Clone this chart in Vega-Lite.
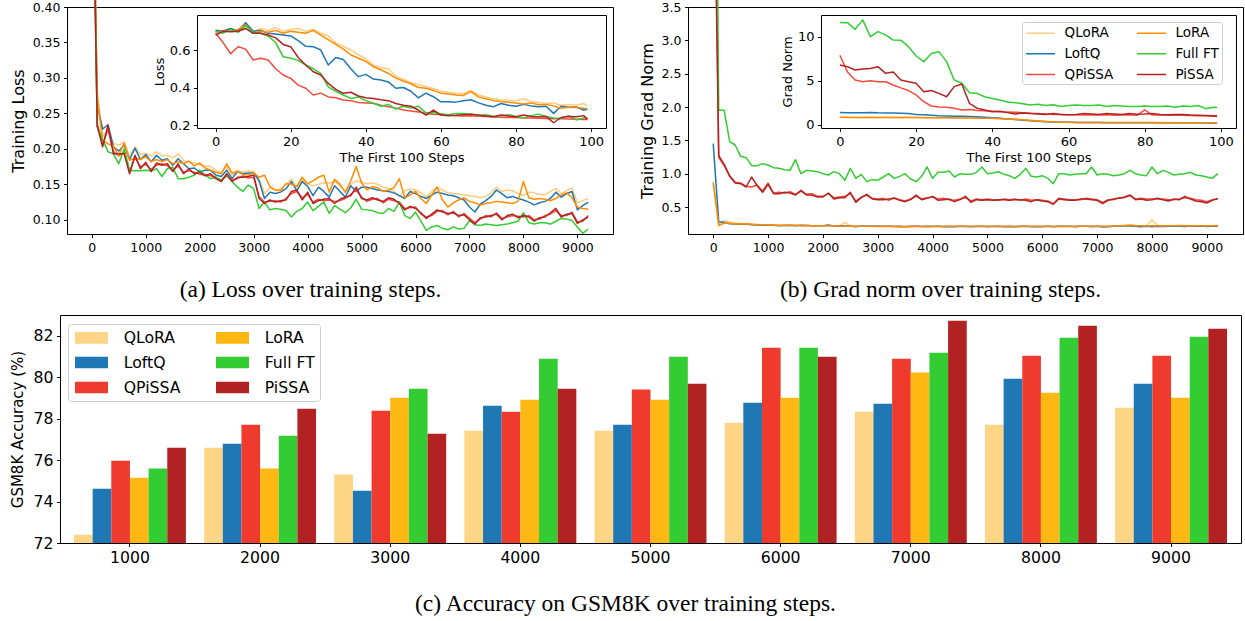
{
  "$schema": "https://vega.github.io/schema/vega-lite/v6.json",
  "width": 1245,
  "height": 621,
  "autosize": {"type": "none"},
  "padding": 0,
  "background": "white",
  "config": {
    "view": {"stroke": null},
    "font": "DejaVu Sans",
    "axis": {
      "grid": false,
      "domainColor": "#000000",
      "domainWidth": 1,
      "tickColor": "#000000",
      "tickWidth": 1,
      "tickSize": 3.5,
      "labelPadding": 3.5,
      "labelColor": "#000000",
      "labelFont": "DejaVu Sans",
      "labelFlush": false,
      "labelOverlap": false,
      "titleColor": "#000000",
      "titleFont": "DejaVu Sans",
      "titleFontWeight": "normal"
    },
    "legend": {"labelFont": "DejaVu Sans", "labelColor": "#000000"}
  },
  "datasets": {
    "lossMain": [
      {"m":"QLoRA","s":0,"v":0.70},{"m":"QLoRA","s":100,"v":0.282},{"m":"QLoRA","s":200,"v":0.217},{"m":"QLoRA","s":300,"v":0.226},{"m":"QLoRA","s":400,"v":0.208},{"m":"QLoRA","s":500,"v":0.205},{"m":"QLoRA","s":600,"v":0.210},{"m":"QLoRA","s":700,"v":0.189},{"m":"QLoRA","s":800,"v":0.203},{"m":"QLoRA","s":900,"v":0.192},
      {"m":"QLoRA","s":1000,"v":0.194},{"m":"QLoRA","s":1100,"v":0.190},{"m":"QLoRA","s":1200,"v":0.196},{"m":"QLoRA","s":1300,"v":0.190},{"m":"QLoRA","s":1400,"v":0.191},{"m":"QLoRA","s":1500,"v":0.187},{"m":"QLoRA","s":1600,"v":0.193},{"m":"QLoRA","s":1700,"v":0.184},{"m":"QLoRA","s":1800,"v":0.181},{"m":"QLoRA","s":1900,"v":0.180},
      {"m":"QLoRA","s":2000,"v":0.178},{"m":"QLoRA","s":2100,"v":0.176},{"m":"QLoRA","s":2200,"v":0.175},{"m":"QLoRA","s":2300,"v":0.170},{"m":"QLoRA","s":2400,"v":0.166},{"m":"QLoRA","s":2500,"v":0.175},{"m":"QLoRA","s":2600,"v":0.163},{"m":"QLoRA","s":2700,"v":0.170},{"m":"QLoRA","s":2800,"v":0.167},{"m":"QLoRA","s":2900,"v":0.169},
      {"m":"QLoRA","s":3000,"v":0.168},{"m":"QLoRA","s":3100,"v":0.158},{"m":"QLoRA","s":3200,"v":0.137},{"m":"QLoRA","s":3300,"v":0.145},{"m":"QLoRA","s":3400,"v":0.142},{"m":"QLoRA","s":3500,"v":0.144},{"m":"QLoRA","s":3600,"v":0.150},{"m":"QLoRA","s":3700,"v":0.157},{"m":"QLoRA","s":3800,"v":0.146},{"m":"QLoRA","s":3900,"v":0.156},
      {"m":"QLoRA","s":4000,"v":0.150},{"m":"QLoRA","s":4100,"v":0.148},{"m":"QLoRA","s":4200,"v":0.150},{"m":"QLoRA","s":4300,"v":0.152},{"m":"QLoRA","s":4400,"v":0.152},{"m":"QLoRA","s":4500,"v":0.154},{"m":"QLoRA","s":4600,"v":0.148},{"m":"QLoRA","s":4700,"v":0.139},{"m":"QLoRA","s":4800,"v":0.150},{"m":"QLoRA","s":4900,"v":0.155},
      {"m":"QLoRA","s":5000,"v":0.153},{"m":"QLoRA","s":5100,"v":0.151},{"m":"QLoRA","s":5200,"v":0.152},{"m":"QLoRA","s":5300,"v":0.150},{"m":"QLoRA","s":5400,"v":0.146},{"m":"QLoRA","s":5500,"v":0.144},{"m":"QLoRA","s":5600,"v":0.140},{"m":"QLoRA","s":5700,"v":0.133},{"m":"QLoRA","s":5800,"v":0.141},{"m":"QLoRA","s":5900,"v":0.143},
      {"m":"QLoRA","s":6000,"v":0.142},{"m":"QLoRA","s":6100,"v":0.138},{"m":"QLoRA","s":6200,"v":0.132},{"m":"QLoRA","s":6300,"v":0.140},{"m":"QLoRA","s":6400,"v":0.146},{"m":"QLoRA","s":6500,"v":0.142},{"m":"QLoRA","s":6600,"v":0.138},{"m":"QLoRA","s":6700,"v":0.137},{"m":"QLoRA","s":6800,"v":0.136},{"m":"QLoRA","s":6900,"v":0.135},
      {"m":"QLoRA","s":7000,"v":0.134},{"m":"QLoRA","s":7100,"v":0.133},{"m":"QLoRA","s":7200,"v":0.131},{"m":"QLoRA","s":7300,"v":0.133},{"m":"QLoRA","s":7400,"v":0.138},{"m":"QLoRA","s":7500,"v":0.146},{"m":"QLoRA","s":7600,"v":0.140},{"m":"QLoRA","s":7700,"v":0.142},{"m":"QLoRA","s":7800,"v":0.141},{"m":"QLoRA","s":7900,"v":0.137},
      {"m":"QLoRA","s":8000,"v":0.134},{"m":"QLoRA","s":8100,"v":0.139},{"m":"QLoRA","s":8200,"v":0.138},{"m":"QLoRA","s":8300,"v":0.136},{"m":"QLoRA","s":8400,"v":0.135},{"m":"QLoRA","s":8500,"v":0.140},{"m":"QLoRA","s":8600,"v":0.144},{"m":"QLoRA","s":8700,"v":0.137},{"m":"QLoRA","s":8800,"v":0.141},{"m":"QLoRA","s":8900,"v":0.145},
      {"m":"QLoRA","s":9000,"v":0.124},{"m":"QLoRA","s":9100,"v":0.127},{"m":"QLoRA","s":9200,"v":0.130},

      {"m":"LoftQ","s":0,"v":0.70},{"m":"LoftQ","s":100,"v":0.262},{"m":"LoftQ","s":200,"v":0.228},{"m":"LoftQ","s":300,"v":0.234},{"m":"LoftQ","s":400,"v":0.203},{"m":"LoftQ","s":500,"v":0.197},{"m":"LoftQ","s":600,"v":0.205},{"m":"LoftQ","s":700,"v":0.185},{"m":"LoftQ","s":800,"v":0.201},{"m":"LoftQ","s":900,"v":0.185},
      {"m":"LoftQ","s":1000,"v":0.192},{"m":"LoftQ","s":1100,"v":0.182},{"m":"LoftQ","s":1200,"v":0.191},{"m":"LoftQ","s":1300,"v":0.184},{"m":"LoftQ","s":1400,"v":0.186},{"m":"LoftQ","s":1500,"v":0.177},{"m":"LoftQ","s":1600,"v":0.186},{"m":"LoftQ","s":1700,"v":0.179},{"m":"LoftQ","s":1800,"v":0.172},{"m":"LoftQ","s":1900,"v":0.173},
      {"m":"LoftQ","s":2000,"v":0.167},{"m":"LoftQ","s":2100,"v":0.170},{"m":"LoftQ","s":2200,"v":0.170},{"m":"LoftQ","s":2300,"v":0.163},{"m":"LoftQ","s":2400,"v":0.161},{"m":"LoftQ","s":2500,"v":0.170},{"m":"LoftQ","s":2600,"v":0.158},{"m":"LoftQ","s":2700,"v":0.168},{"m":"LoftQ","s":2800,"v":0.165},{"m":"LoftQ","s":2900,"v":0.166},
      {"m":"LoftQ","s":3000,"v":0.166},{"m":"LoftQ","s":3100,"v":0.155},{"m":"LoftQ","s":3200,"v":0.130},{"m":"LoftQ","s":3300,"v":0.139},{"m":"LoftQ","s":3400,"v":0.137},{"m":"LoftQ","s":3500,"v":0.139},{"m":"LoftQ","s":3600,"v":0.144},{"m":"LoftQ","s":3700,"v":0.154},{"m":"LoftQ","s":3800,"v":0.141},{"m":"LoftQ","s":3900,"v":0.154},
      {"m":"LoftQ","s":4000,"v":0.147},{"m":"LoftQ","s":4100,"v":0.134},{"m":"LoftQ","s":4200,"v":0.146},{"m":"LoftQ","s":4300,"v":0.140},{"m":"LoftQ","s":4400,"v":0.132},{"m":"LoftQ","s":4500,"v":0.148},{"m":"LoftQ","s":4600,"v":0.140},{"m":"LoftQ","s":4700,"v":0.132},{"m":"LoftQ","s":4800,"v":0.148},{"m":"LoftQ","s":4900,"v":0.140},
      {"m":"LoftQ","s":5000,"v":0.146},{"m":"LoftQ","s":5100,"v":0.146},{"m":"LoftQ","s":5200,"v":0.144},{"m":"LoftQ","s":5300,"v":0.142},{"m":"LoftQ","s":5400,"v":0.141},{"m":"LoftQ","s":5500,"v":0.140},{"m":"LoftQ","s":5600,"v":0.138},{"m":"LoftQ","s":5700,"v":0.134},{"m":"LoftQ","s":5800,"v":0.130},{"m":"LoftQ","s":5900,"v":0.140},
      {"m":"LoftQ","s":6000,"v":0.137},{"m":"LoftQ","s":6100,"v":0.133},{"m":"LoftQ","s":6200,"v":0.130},{"m":"LoftQ","s":6300,"v":0.135},{"m":"LoftQ","s":6400,"v":0.139},{"m":"LoftQ","s":6500,"v":0.137},{"m":"LoftQ","s":6600,"v":0.135},{"m":"LoftQ","s":6700,"v":0.134},{"m":"LoftQ","s":6800,"v":0.131},{"m":"LoftQ","s":6900,"v":0.128},
      {"m":"LoftQ","s":7000,"v":0.118},{"m":"LoftQ","s":7100,"v":0.111},{"m":"LoftQ","s":7200,"v":0.122},{"m":"LoftQ","s":7300,"v":0.127},{"m":"LoftQ","s":7400,"v":0.133},{"m":"LoftQ","s":7500,"v":0.142},{"m":"LoftQ","s":7600,"v":0.137},{"m":"LoftQ","s":7700,"v":0.131},{"m":"LoftQ","s":7800,"v":0.133},{"m":"LoftQ","s":7900,"v":0.130},
      {"m":"LoftQ","s":8000,"v":0.128},{"m":"LoftQ","s":8100,"v":0.125},{"m":"LoftQ","s":8200,"v":0.121},{"m":"LoftQ","s":8300,"v":0.124},{"m":"LoftQ","s":8400,"v":0.126},{"m":"LoftQ","s":8500,"v":0.130},{"m":"LoftQ","s":8600,"v":0.139},{"m":"LoftQ","s":8700,"v":0.132},{"m":"LoftQ","s":8800,"v":0.137},{"m":"LoftQ","s":8900,"v":0.140},
      {"m":"LoftQ","s":9000,"v":0.114},{"m":"LoftQ","s":9100,"v":0.120},{"m":"LoftQ","s":9200,"v":0.125},

      {"m":"QPiSSA","s":0,"v":0.70},{"m":"QPiSSA","s":100,"v":0.236},{"m":"QPiSSA","s":200,"v":0.206},{"m":"QPiSSA","s":300,"v":0.228},{"m":"QPiSSA","s":400,"v":0.196},{"m":"QPiSSA","s":500,"v":0.190},{"m":"QPiSSA","s":600,"v":0.196},{"m":"QPiSSA","s":700,"v":0.168},{"m":"QPiSSA","s":800,"v":0.188},{"m":"QPiSSA","s":900,"v":0.175},
      {"m":"QPiSSA","s":1000,"v":0.178},{"m":"QPiSSA","s":1100,"v":0.171},{"m":"QPiSSA","s":1200,"v":0.177},{"m":"QPiSSA","s":1300,"v":0.179},{"m":"QPiSSA","s":1400,"v":0.176},{"m":"QPiSSA","s":1500,"v":0.170},{"m":"QPiSSA","s":1600,"v":0.176},{"m":"QPiSSA","s":1700,"v":0.167},{"m":"QPiSSA","s":1800,"v":0.169},{"m":"QPiSSA","s":1900,"v":0.167},
      {"m":"QPiSSA","s":2000,"v":0.164},{"m":"QPiSSA","s":2100,"v":0.164},{"m":"QPiSSA","s":2200,"v":0.162},{"m":"QPiSSA","s":2300,"v":0.160},{"m":"QPiSSA","s":2400,"v":0.156},{"m":"QPiSSA","s":2500,"v":0.162},{"m":"QPiSSA","s":2600,"v":0.156},{"m":"QPiSSA","s":2700,"v":0.158},{"m":"QPiSSA","s":2800,"v":0.162},{"m":"QPiSSA","s":2900,"v":0.159},
      {"m":"QPiSSA","s":3000,"v":0.160},{"m":"QPiSSA","s":3100,"v":0.133},{"m":"QPiSSA","s":3200,"v":0.125},{"m":"QPiSSA","s":3300,"v":0.126},{"m":"QPiSSA","s":3400,"v":0.127},{"m":"QPiSSA","s":3500,"v":0.125},{"m":"QPiSSA","s":3600,"v":0.130},{"m":"QPiSSA","s":3700,"v":0.137},{"m":"QPiSSA","s":3800,"v":0.140},{"m":"QPiSSA","s":3900,"v":0.131},
      {"m":"QPiSSA","s":4000,"v":0.136},{"m":"QPiSSA","s":4100,"v":0.125},{"m":"QPiSSA","s":4200,"v":0.129},{"m":"QPiSSA","s":4300,"v":0.127},{"m":"QPiSSA","s":4400,"v":0.128},{"m":"QPiSSA","s":4500,"v":0.126},{"m":"QPiSSA","s":4600,"v":0.127},{"m":"QPiSSA","s":4700,"v":0.130},{"m":"QPiSSA","s":4800,"v":0.136},{"m":"QPiSSA","s":4900,"v":0.142},
      {"m":"QPiSSA","s":5000,"v":0.132},{"m":"QPiSSA","s":5100,"v":0.126},{"m":"QPiSSA","s":5200,"v":0.129},{"m":"QPiSSA","s":5300,"v":0.130},{"m":"QPiSSA","s":5400,"v":0.124},{"m":"QPiSSA","s":5500,"v":0.129},{"m":"QPiSSA","s":5600,"v":0.127},{"m":"QPiSSA","s":5700,"v":0.125},{"m":"QPiSSA","s":5800,"v":0.116},{"m":"QPiSSA","s":5900,"v":0.117},
      {"m":"QPiSSA","s":6000,"v":0.118},{"m":"QPiSSA","s":6100,"v":0.108},{"m":"QPiSSA","s":6200,"v":0.104},{"m":"QPiSSA","s":6300,"v":0.106},{"m":"QPiSSA","s":6400,"v":0.112},{"m":"QPiSSA","s":6500,"v":0.113},{"m":"QPiSSA","s":6600,"v":0.107},{"m":"QPiSSA","s":6700,"v":0.112},{"m":"QPiSSA","s":6800,"v":0.104},{"m":"QPiSSA","s":6900,"v":0.109},
      {"m":"QPiSSA","s":7000,"v":0.102},{"m":"QPiSSA","s":7100,"v":0.096},{"m":"QPiSSA","s":7200,"v":0.101},{"m":"QPiSSA","s":7300,"v":0.106},{"m":"QPiSSA","s":7400,"v":0.104},{"m":"QPiSSA","s":7500,"v":0.110},{"m":"QPiSSA","s":7600,"v":0.102},{"m":"QPiSSA","s":7700,"v":0.104},{"m":"QPiSSA","s":7800,"v":0.106},{"m":"QPiSSA","s":7900,"v":0.105},
      {"m":"QPiSSA","s":8000,"v":0.104},{"m":"QPiSSA","s":8100,"v":0.106},{"m":"QPiSSA","s":8200,"v":0.100},{"m":"QPiSSA","s":8300,"v":0.101},{"m":"QPiSSA","s":8400,"v":0.106},{"m":"QPiSSA","s":8500,"v":0.108},{"m":"QPiSSA","s":8600,"v":0.113},{"m":"QPiSSA","s":8700,"v":0.106},{"m":"QPiSSA","s":8800,"v":0.106},{"m":"QPiSSA","s":8900,"v":0.111},
      {"m":"QPiSSA","s":9000,"v":0.097},{"m":"QPiSSA","s":9100,"v":0.098},{"m":"QPiSSA","s":9200,"v":0.106},

      {"m":"LoRA","s":0,"v":0.70},{"m":"LoRA","s":100,"v":0.272},{"m":"LoRA","s":200,"v":0.212},{"m":"LoRA","s":300,"v":0.207},{"m":"LoRA","s":400,"v":0.204},{"m":"LoRA","s":500,"v":0.191},{"m":"LoRA","s":600,"v":0.208},{"m":"LoRA","s":700,"v":0.184},{"m":"LoRA","s":800,"v":0.187},{"m":"LoRA","s":900,"v":0.185},
      {"m":"LoRA","s":1000,"v":0.189},{"m":"LoRA","s":1100,"v":0.182},{"m":"LoRA","s":1200,"v":0.185},{"m":"LoRA","s":1300,"v":0.182},{"m":"LoRA","s":1400,"v":0.185},{"m":"LoRA","s":1500,"v":0.179},{"m":"LoRA","s":1600,"v":0.182},{"m":"LoRA","s":1700,"v":0.179},{"m":"LoRA","s":1800,"v":0.183},{"m":"LoRA","s":1900,"v":0.176},
      {"m":"LoRA","s":2000,"v":0.180},{"m":"LoRA","s":2100,"v":0.173},{"m":"LoRA","s":2200,"v":0.170},{"m":"LoRA","s":2300,"v":0.167},{"m":"LoRA","s":2400,"v":0.165},{"m":"LoRA","s":2500,"v":0.179},{"m":"LoRA","s":2600,"v":0.166},{"m":"LoRA","s":2700,"v":0.168},{"m":"LoRA","s":2800,"v":0.164},{"m":"LoRA","s":2900,"v":0.163},
      {"m":"LoRA","s":3000,"v":0.166},{"m":"LoRA","s":3100,"v":0.160},{"m":"LoRA","s":3200,"v":0.163},{"m":"LoRA","s":3300,"v":0.147},{"m":"LoRA","s":3400,"v":0.142},{"m":"LoRA","s":3500,"v":0.141},{"m":"LoRA","s":3600,"v":0.151},{"m":"LoRA","s":3700,"v":0.150},{"m":"LoRA","s":3800,"v":0.147},{"m":"LoRA","s":3900,"v":0.160},
      {"m":"LoRA","s":4000,"v":0.151},{"m":"LoRA","s":4100,"v":0.155},{"m":"LoRA","s":4200,"v":0.160},{"m":"LoRA","s":4300,"v":0.163},{"m":"LoRA","s":4400,"v":0.139},{"m":"LoRA","s":4500,"v":0.157},{"m":"LoRA","s":4600,"v":0.150},{"m":"LoRA","s":4700,"v":0.139},{"m":"LoRA","s":4800,"v":0.155},{"m":"LoRA","s":4900,"v":0.175},
      {"m":"LoRA","s":5000,"v":0.152},{"m":"LoRA","s":5100,"v":0.142},{"m":"LoRA","s":5200,"v":0.147},{"m":"LoRA","s":5300,"v":0.145},{"m":"LoRA","s":5400,"v":0.140},{"m":"LoRA","s":5500,"v":0.142},{"m":"LoRA","s":5600,"v":0.145},{"m":"LoRA","s":5700,"v":0.158},{"m":"LoRA","s":5800,"v":0.131},{"m":"LoRA","s":5900,"v":0.135},
      {"m":"LoRA","s":6000,"v":0.140},{"m":"LoRA","s":6100,"v":0.130},{"m":"LoRA","s":6200,"v":0.123},{"m":"LoRA","s":6300,"v":0.135},{"m":"LoRA","s":6400,"v":0.146},{"m":"LoRA","s":6500,"v":0.128},{"m":"LoRA","s":6600,"v":0.118},{"m":"LoRA","s":6700,"v":0.124},{"m":"LoRA","s":6800,"v":0.128},{"m":"LoRA","s":6900,"v":0.131},
      {"m":"LoRA","s":7000,"v":0.126},{"m":"LoRA","s":7100,"v":0.124},{"m":"LoRA","s":7200,"v":0.121},{"m":"LoRA","s":7300,"v":0.123},{"m":"LoRA","s":7400,"v":0.124},{"m":"LoRA","s":7500,"v":0.126},{"m":"LoRA","s":7600,"v":0.125},{"m":"LoRA","s":7700,"v":0.124},{"m":"LoRA","s":7800,"v":0.123},{"m":"LoRA","s":7900,"v":0.126},
      {"m":"LoRA","s":8000,"v":0.154},{"m":"LoRA","s":8100,"v":0.131},{"m":"LoRA","s":8200,"v":0.129},{"m":"LoRA","s":8300,"v":0.130},{"m":"LoRA","s":8400,"v":0.129},{"m":"LoRA","s":8500,"v":0.127},{"m":"LoRA","s":8600,"v":0.130},{"m":"LoRA","s":8700,"v":0.135},{"m":"LoRA","s":8800,"v":0.138},{"m":"LoRA","s":8900,"v":0.131},
      {"m":"LoRA","s":9000,"v":0.118},{"m":"LoRA","s":9100,"v":0.116},{"m":"LoRA","s":9200,"v":0.115},

      {"m":"Full FT","s":0,"v":0.70},{"m":"Full FT","s":100,"v":0.231},{"m":"Full FT","s":200,"v":0.213},{"m":"Full FT","s":300,"v":0.196},{"m":"Full FT","s":400,"v":0.193},{"m":"Full FT","s":500,"v":0.179},{"m":"Full FT","s":600,"v":0.200},{"m":"Full FT","s":700,"v":0.170},{"m":"Full FT","s":800,"v":0.169},{"m":"Full FT","s":900,"v":0.169},
      {"m":"Full FT","s":1000,"v":0.170},{"m":"Full FT","s":1100,"v":0.169},{"m":"Full FT","s":1200,"v":0.172},{"m":"Full FT","s":1300,"v":0.161},{"m":"Full FT","s":1400,"v":0.172},{"m":"Full FT","s":1500,"v":0.174},{"m":"Full FT","s":1600,"v":0.158},{"m":"Full FT","s":1700,"v":0.158},{"m":"Full FT","s":1800,"v":0.160},{"m":"Full FT","s":1900,"v":0.163},
      {"m":"Full FT","s":2000,"v":0.170},{"m":"Full FT","s":2100,"v":0.163},{"m":"Full FT","s":2200,"v":0.158},{"m":"Full FT","s":2300,"v":0.160},{"m":"Full FT","s":2400,"v":0.156},{"m":"Full FT","s":2500,"v":0.163},{"m":"Full FT","s":2600,"v":0.154},{"m":"Full FT","s":2700,"v":0.146},{"m":"Full FT","s":2800,"v":0.140},{"m":"Full FT","s":2900,"v":0.149},
      {"m":"Full FT","s":3000,"v":0.144},{"m":"Full FT","s":3100,"v":0.116},{"m":"Full FT","s":3200,"v":0.125},{"m":"Full FT","s":3300,"v":0.114},{"m":"Full FT","s":3400,"v":0.116},{"m":"Full FT","s":3500,"v":0.115},{"m":"Full FT","s":3600,"v":0.113},{"m":"Full FT","s":3700,"v":0.104},{"m":"Full FT","s":3800,"v":0.112},{"m":"Full FT","s":3900,"v":0.116},
      {"m":"Full FT","s":4000,"v":0.125},{"m":"Full FT","s":4100,"v":0.113},{"m":"Full FT","s":4200,"v":0.119},{"m":"Full FT","s":4300,"v":0.125},{"m":"Full FT","s":4400,"v":0.109},{"m":"Full FT","s":4500,"v":0.120},{"m":"Full FT","s":4600,"v":0.115},{"m":"Full FT","s":4700,"v":0.110},{"m":"Full FT","s":4800,"v":0.117},{"m":"Full FT","s":4900,"v":0.129},
      {"m":"Full FT","s":5000,"v":0.115},{"m":"Full FT","s":5100,"v":0.114},{"m":"Full FT","s":5200,"v":0.113},{"m":"Full FT","s":5300,"v":0.110},{"m":"Full FT","s":5400,"v":0.109},{"m":"Full FT","s":5500,"v":0.116},{"m":"Full FT","s":5600,"v":0.112},{"m":"Full FT","s":5700,"v":0.125},{"m":"Full FT","s":5800,"v":0.106},{"m":"Full FT","s":5900,"v":0.102},
      {"m":"Full FT","s":6000,"v":0.111},{"m":"Full FT","s":6100,"v":0.098},{"m":"Full FT","s":6200,"v":0.085},{"m":"Full FT","s":6300,"v":0.090},{"m":"Full FT","s":6400,"v":0.092},{"m":"Full FT","s":6500,"v":0.088},{"m":"Full FT","s":6600,"v":0.086},{"m":"Full FT","s":6700,"v":0.090},{"m":"Full FT","s":6800,"v":0.087},{"m":"Full FT","s":6900,"v":0.088},
      {"m":"Full FT","s":7000,"v":0.099},{"m":"Full FT","s":7100,"v":0.093},{"m":"Full FT","s":7200,"v":0.092},{"m":"Full FT","s":7300,"v":0.094},{"m":"Full FT","s":7400,"v":0.093},{"m":"Full FT","s":7500,"v":0.092},{"m":"Full FT","s":7600,"v":0.093},{"m":"Full FT","s":7700,"v":0.094},{"m":"Full FT","s":7800,"v":0.096},{"m":"Full FT","s":7900,"v":0.098},
      {"m":"Full FT","s":8000,"v":0.110},{"m":"Full FT","s":8100,"v":0.096},{"m":"Full FT","s":8200,"v":0.094},{"m":"Full FT","s":8300,"v":0.096},{"m":"Full FT","s":8400,"v":0.096},{"m":"Full FT","s":8500,"v":0.094},{"m":"Full FT","s":8600,"v":0.098},{"m":"Full FT","s":8700,"v":0.102},{"m":"Full FT","s":8800,"v":0.101},{"m":"Full FT","s":8900,"v":0.099},
      {"m":"Full FT","s":9000,"v":0.090},{"m":"Full FT","s":9100,"v":0.081},{"m":"Full FT","s":9200,"v":0.087},

      {"m":"PiSSA","s":0,"v":0.69},{"m":"PiSSA","s":100,"v":0.232},{"m":"PiSSA","s":200,"v":0.203},{"m":"PiSSA","s":300,"v":0.233},{"m":"PiSSA","s":400,"v":0.193},{"m":"PiSSA","s":500,"v":0.193},{"m":"PiSSA","s":600,"v":0.193},{"m":"PiSSA","s":700,"v":0.165},{"m":"PiSSA","s":800,"v":0.191},{"m":"PiSSA","s":900,"v":0.172},
      {"m":"PiSSA","s":1000,"v":0.181},{"m":"PiSSA","s":1100,"v":0.168},{"m":"PiSSA","s":1200,"v":0.180},{"m":"PiSSA","s":1300,"v":0.177},{"m":"PiSSA","s":1400,"v":0.179},{"m":"PiSSA","s":1500,"v":0.168},{"m":"PiSSA","s":1600,"v":0.179},{"m":"PiSSA","s":1700,"v":0.165},{"m":"PiSSA","s":1800,"v":0.172},{"m":"PiSSA","s":1900,"v":0.165},
      {"m":"PiSSA","s":2000,"v":0.167},{"m":"PiSSA","s":2100,"v":0.162},{"m":"PiSSA","s":2200,"v":0.165},{"m":"PiSSA","s":2300,"v":0.158},{"m":"PiSSA","s":2400,"v":0.154},{"m":"PiSSA","s":2500,"v":0.165},{"m":"PiSSA","s":2600,"v":0.154},{"m":"PiSSA","s":2700,"v":0.160},{"m":"PiSSA","s":2800,"v":0.160},{"m":"PiSSA","s":2900,"v":0.161},
      {"m":"PiSSA","s":3000,"v":0.163},{"m":"PiSSA","s":3100,"v":0.130},{"m":"PiSSA","s":3200,"v":0.123},{"m":"PiSSA","s":3300,"v":0.128},{"m":"PiSSA","s":3400,"v":0.125},{"m":"PiSSA","s":3500,"v":0.127},{"m":"PiSSA","s":3600,"v":0.128},{"m":"PiSSA","s":3700,"v":0.140},{"m":"PiSSA","s":3800,"v":0.142},{"m":"PiSSA","s":3900,"v":0.128},
      {"m":"PiSSA","s":4000,"v":0.139},{"m":"PiSSA","s":4100,"v":0.123},{"m":"PiSSA","s":4200,"v":0.127},{"m":"PiSSA","s":4300,"v":0.129},{"m":"PiSSA","s":4400,"v":0.130},{"m":"PiSSA","s":4500,"v":0.123},{"m":"PiSSA","s":4600,"v":0.129},{"m":"PiSSA","s":4700,"v":0.132},{"m":"PiSSA","s":4800,"v":0.134},{"m":"PiSSA","s":4900,"v":0.146},
      {"m":"PiSSA","s":5000,"v":0.130},{"m":"PiSSA","s":5100,"v":0.128},{"m":"PiSSA","s":5200,"v":0.131},{"m":"PiSSA","s":5300,"v":0.128},{"m":"PiSSA","s":5400,"v":0.126},{"m":"PiSSA","s":5500,"v":0.131},{"m":"PiSSA","s":5600,"v":0.129},{"m":"PiSSA","s":5700,"v":0.123},{"m":"PiSSA","s":5800,"v":0.114},{"m":"PiSSA","s":5900,"v":0.119},
      {"m":"PiSSA","s":6000,"v":0.116},{"m":"PiSSA","s":6100,"v":0.110},{"m":"PiSSA","s":6200,"v":0.102},{"m":"PiSSA","s":6300,"v":0.108},{"m":"PiSSA","s":6400,"v":0.114},{"m":"PiSSA","s":6500,"v":0.111},{"m":"PiSSA","s":6600,"v":0.109},{"m":"PiSSA","s":6700,"v":0.110},{"m":"PiSSA","s":6800,"v":0.106},{"m":"PiSSA","s":6900,"v":0.107},
      {"m":"PiSSA","s":7000,"v":0.100},{"m":"PiSSA","s":7100,"v":0.094},{"m":"PiSSA","s":7200,"v":0.103},{"m":"PiSSA","s":7300,"v":0.104},{"m":"PiSSA","s":7400,"v":0.106},{"m":"PiSSA","s":7500,"v":0.108},{"m":"PiSSA","s":7600,"v":0.100},{"m":"PiSSA","s":7700,"v":0.106},{"m":"PiSSA","s":7800,"v":0.108},{"m":"PiSSA","s":7900,"v":0.103},
      {"m":"PiSSA","s":8000,"v":0.106},{"m":"PiSSA","s":8100,"v":0.104},{"m":"PiSSA","s":8200,"v":0.098},{"m":"PiSSA","s":8300,"v":0.103},{"m":"PiSSA","s":8400,"v":0.104},{"m":"PiSSA","s":8500,"v":0.110},{"m":"PiSSA","s":8600,"v":0.116},{"m":"PiSSA","s":8700,"v":0.104},{"m":"PiSSA","s":8800,"v":0.108},{"m":"PiSSA","s":8900,"v":0.109},
      {"m":"PiSSA","s":9000,"v":0.095},{"m":"PiSSA","s":9100,"v":0.100},{"m":"PiSSA","s":9200,"v":0.104}
    ],
    "lossInset": [
      {"m":"QLoRA","s":0,"v":0.700},{"m":"QLoRA","s":2,"v":0.705},{"m":"QLoRA","s":4,"v":0.715},{"m":"QLoRA","s":6,"v":0.705},{"m":"QLoRA","s":8,"v":0.745},{"m":"QLoRA","s":10,"v":0.700},{"m":"QLoRA","s":12,"v":0.715},{"m":"QLoRA","s":14,"v":0.705},{"m":"QLoRA","s":16,"v":0.720},{"m":"QLoRA","s":18,"v":0.700},
      {"m":"QLoRA","s":20,"v":0.710},{"m":"QLoRA","s":22,"v":0.715},{"m":"QLoRA","s":24,"v":0.700},{"m":"QLoRA","s":26,"v":0.710},{"m":"QLoRA","s":28,"v":0.690},{"m":"QLoRA","s":30,"v":0.675},{"m":"QLoRA","s":32,"v":0.640},{"m":"QLoRA","s":34,"v":0.620},{"m":"QLoRA","s":36,"v":0.600},{"m":"QLoRA","s":38,"v":0.575},
      {"m":"QLoRA","s":40,"v":0.555},{"m":"QLoRA","s":42,"v":0.520},{"m":"QLoRA","s":44,"v":0.505},{"m":"QLoRA","s":46,"v":0.500},{"m":"QLoRA","s":48,"v":0.460},{"m":"QLoRA","s":50,"v":0.445},{"m":"QLoRA","s":52,"v":0.425},{"m":"QLoRA","s":54,"v":0.415},{"m":"QLoRA","s":56,"v":0.405},{"m":"QLoRA","s":58,"v":0.395},
      {"m":"QLoRA","s":60,"v":0.380},{"m":"QLoRA","s":62,"v":0.375},{"m":"QLoRA","s":64,"v":0.370},{"m":"QLoRA","s":66,"v":0.368},{"m":"QLoRA","s":68,"v":0.385},{"m":"QLoRA","s":70,"v":0.360},{"m":"QLoRA","s":72,"v":0.350},{"m":"QLoRA","s":74,"v":0.340},{"m":"QLoRA","s":76,"v":0.335},{"m":"QLoRA","s":78,"v":0.332},
      {"m":"QLoRA","s":80,"v":0.330},{"m":"QLoRA","s":82,"v":0.340},{"m":"QLoRA","s":84,"v":0.325},{"m":"QLoRA","s":86,"v":0.320},{"m":"QLoRA","s":88,"v":0.315},{"m":"QLoRA","s":90,"v":0.318},{"m":"QLoRA","s":92,"v":0.305},{"m":"QLoRA","s":94,"v":0.310},{"m":"QLoRA","s":96,"v":0.305},{"m":"QLoRA","s":98,"v":0.315},{"m":"QLoRA","s":99,"v":0.300},

      {"m":"LoftQ","s":0,"v":0.705},{"m":"LoftQ","s":2,"v":0.700},{"m":"LoftQ","s":4,"v":0.715},{"m":"LoftQ","s":6,"v":0.700},{"m":"LoftQ","s":8,"v":0.745},{"m":"LoftQ","s":10,"v":0.700},{"m":"LoftQ","s":12,"v":0.705},{"m":"LoftQ","s":14,"v":0.690},{"m":"LoftQ","s":16,"v":0.685},{"m":"LoftQ","s":18,"v":0.680},
      {"m":"LoftQ","s":20,"v":0.675},{"m":"LoftQ","s":22,"v":0.650},{"m":"LoftQ","s":24,"v":0.620},{"m":"LoftQ","s":26,"v":0.618},{"m":"LoftQ","s":28,"v":0.600},{"m":"LoftQ","s":30,"v":0.520},{"m":"LoftQ","s":32,"v":0.560},{"m":"LoftQ","s":34,"v":0.550},{"m":"LoftQ","s":36,"v":0.500},{"m":"LoftQ","s":38,"v":0.458},
      {"m":"LoftQ","s":40,"v":0.470},{"m":"LoftQ","s":42,"v":0.445},{"m":"LoftQ","s":44,"v":0.440},{"m":"LoftQ","s":46,"v":0.430},{"m":"LoftQ","s":48,"v":0.396},{"m":"LoftQ","s":50,"v":0.400},{"m":"LoftQ","s":52,"v":0.380},{"m":"LoftQ","s":54,"v":0.345},{"m":"LoftQ","s":56,"v":0.370},{"m":"LoftQ","s":58,"v":0.351},
      {"m":"LoftQ","s":60,"v":0.324},{"m":"LoftQ","s":62,"v":0.324},{"m":"LoftQ","s":64,"v":0.322},{"m":"LoftQ","s":66,"v":0.330},{"m":"LoftQ","s":68,"v":0.335},{"m":"LoftQ","s":70,"v":0.318},{"m":"LoftQ","s":72,"v":0.305},{"m":"LoftQ","s":74,"v":0.298},{"m":"LoftQ","s":76,"v":0.315},{"m":"LoftQ","s":78,"v":0.305},
      {"m":"LoftQ","s":80,"v":0.300},{"m":"LoftQ","s":82,"v":0.310},{"m":"LoftQ","s":84,"v":0.302},{"m":"LoftQ","s":86,"v":0.298},{"m":"LoftQ","s":88,"v":0.300},{"m":"LoftQ","s":90,"v":0.262},{"m":"LoftQ","s":92,"v":0.300},{"m":"LoftQ","s":94,"v":0.295},{"m":"LoftQ","s":96,"v":0.296},{"m":"LoftQ","s":98,"v":0.280},{"m":"LoftQ","s":99,"v":0.283},

      {"m":"QPiSSA","s":0,"v":0.690},{"m":"QPiSSA","s":2,"v":0.640},{"m":"QPiSSA","s":4,"v":0.580},{"m":"QPiSSA","s":6,"v":0.618},{"m":"QPiSSA","s":8,"v":0.605},{"m":"QPiSSA","s":10,"v":0.547},{"m":"QPiSSA","s":12,"v":0.556},{"m":"QPiSSA","s":14,"v":0.547},{"m":"QPiSSA","s":16,"v":0.500},{"m":"QPiSSA","s":18,"v":0.467},
      {"m":"QPiSSA","s":20,"v":0.449},{"m":"QPiSSA","s":22,"v":0.413},{"m":"QPiSSA","s":24,"v":0.396},{"m":"QPiSSA","s":26,"v":0.360},{"m":"QPiSSA","s":28,"v":0.370},{"m":"QPiSSA","s":30,"v":0.350},{"m":"QPiSSA","s":32,"v":0.345},{"m":"QPiSSA","s":34,"v":0.333},{"m":"QPiSSA","s":36,"v":0.330},{"m":"QPiSSA","s":38,"v":0.320},
      {"m":"QPiSSA","s":40,"v":0.318},{"m":"QPiSSA","s":42,"v":0.316},{"m":"QPiSSA","s":44,"v":0.305},{"m":"QPiSSA","s":46,"v":0.298},{"m":"QPiSSA","s":48,"v":0.290},{"m":"QPiSSA","s":50,"v":0.280},{"m":"QPiSSA","s":52,"v":0.275},{"m":"QPiSSA","s":54,"v":0.270},{"m":"QPiSSA","s":56,"v":0.262},{"m":"QPiSSA","s":58,"v":0.258},
      {"m":"QPiSSA","s":60,"v":0.255},{"m":"QPiSSA","s":62,"v":0.253},{"m":"QPiSSA","s":64,"v":0.250},{"m":"QPiSSA","s":66,"v":0.248},{"m":"QPiSSA","s":68,"v":0.250},{"m":"QPiSSA","s":70,"v":0.247},{"m":"QPiSSA","s":72,"v":0.245},{"m":"QPiSSA","s":74,"v":0.243},{"m":"QPiSSA","s":76,"v":0.242},{"m":"QPiSSA","s":78,"v":0.240},
      {"m":"QPiSSA","s":80,"v":0.240},{"m":"QPiSSA","s":82,"v":0.238},{"m":"QPiSSA","s":84,"v":0.237},{"m":"QPiSSA","s":86,"v":0.236},{"m":"QPiSSA","s":88,"v":0.235},{"m":"QPiSSA","s":90,"v":0.234},{"m":"QPiSSA","s":92,"v":0.233},{"m":"QPiSSA","s":94,"v":0.232},{"m":"QPiSSA","s":96,"v":0.231},{"m":"QPiSSA","s":98,"v":0.230},{"m":"QPiSSA","s":99,"v":0.230},

      {"m":"LoRA","s":0,"v":0.695},{"m":"LoRA","s":2,"v":0.700},{"m":"LoRA","s":4,"v":0.700},{"m":"LoRA","s":6,"v":0.710},{"m":"LoRA","s":8,"v":0.735},{"m":"LoRA","s":10,"v":0.690},{"m":"LoRA","s":12,"v":0.700},{"m":"LoRA","s":14,"v":0.695},{"m":"LoRA","s":16,"v":0.705},{"m":"LoRA","s":18,"v":0.690},
      {"m":"LoRA","s":20,"v":0.700},{"m":"LoRA","s":22,"v":0.695},{"m":"LoRA","s":24,"v":0.690},{"m":"LoRA","s":26,"v":0.705},{"m":"LoRA","s":28,"v":0.680},{"m":"LoRA","s":30,"v":0.655},{"m":"LoRA","s":32,"v":0.630},{"m":"LoRA","s":34,"v":0.605},{"m":"LoRA","s":36,"v":0.575},{"m":"LoRA","s":38,"v":0.556},
      {"m":"LoRA","s":40,"v":0.540},{"m":"LoRA","s":42,"v":0.511},{"m":"LoRA","s":44,"v":0.495},{"m":"LoRA","s":46,"v":0.475},{"m":"LoRA","s":48,"v":0.450},{"m":"LoRA","s":50,"v":0.435},{"m":"LoRA","s":52,"v":0.420},{"m":"LoRA","s":54,"v":0.400},{"m":"LoRA","s":56,"v":0.396},{"m":"LoRA","s":58,"v":0.385},
      {"m":"LoRA","s":60,"v":0.369},{"m":"LoRA","s":62,"v":0.365},{"m":"LoRA","s":64,"v":0.360},{"m":"LoRA","s":66,"v":0.358},{"m":"LoRA","s":68,"v":0.378},{"m":"LoRA","s":70,"v":0.350},{"m":"LoRA","s":72,"v":0.340},{"m":"LoRA","s":74,"v":0.330},{"m":"LoRA","s":76,"v":0.325},{"m":"LoRA","s":78,"v":0.322},
      {"m":"LoRA","s":80,"v":0.318},{"m":"LoRA","s":82,"v":0.312},{"m":"LoRA","s":84,"v":0.318},{"m":"LoRA","s":86,"v":0.308},{"m":"LoRA","s":88,"v":0.310},{"m":"LoRA","s":90,"v":0.302},{"m":"LoRA","s":92,"v":0.289},{"m":"LoRA","s":94,"v":0.295},{"m":"LoRA","s":96,"v":0.293},{"m":"LoRA","s":98,"v":0.290},{"m":"LoRA","s":99,"v":0.285},

      {"m":"Full FT","s":0,"v":0.700},{"m":"Full FT","s":2,"v":0.690},{"m":"Full FT","s":4,"v":0.710},{"m":"Full FT","s":6,"v":0.695},{"m":"Full FT","s":8,"v":0.730},{"m":"Full FT","s":10,"v":0.695},{"m":"Full FT","s":12,"v":0.690},{"m":"Full FT","s":14,"v":0.675},{"m":"Full FT","s":16,"v":0.640},{"m":"Full FT","s":18,"v":0.564},
      {"m":"Full FT","s":20,"v":0.556},{"m":"Full FT","s":22,"v":0.545},{"m":"Full FT","s":24,"v":0.520},{"m":"Full FT","s":26,"v":0.500},{"m":"Full FT","s":28,"v":0.476},{"m":"Full FT","s":30,"v":0.404},{"m":"Full FT","s":32,"v":0.380},{"m":"Full FT","s":34,"v":0.360},{"m":"Full FT","s":36,"v":0.342},{"m":"Full FT","s":38,"v":0.350},
      {"m":"Full FT","s":40,"v":0.330},{"m":"Full FT","s":42,"v":0.316},{"m":"Full FT","s":44,"v":0.300},{"m":"Full FT","s":46,"v":0.310},{"m":"Full FT","s":48,"v":0.285},{"m":"Full FT","s":50,"v":0.300},{"m":"Full FT","s":52,"v":0.290},{"m":"Full FT","s":54,"v":0.300},{"m":"Full FT","s":56,"v":0.265},{"m":"Full FT","s":58,"v":0.265},
      {"m":"Full FT","s":60,"v":0.260},{"m":"Full FT","s":62,"v":0.255},{"m":"Full FT","s":64,"v":0.262},{"m":"Full FT","s":66,"v":0.262},{"m":"Full FT","s":68,"v":0.258},{"m":"Full FT","s":70,"v":0.250},{"m":"Full FT","s":72,"v":0.255},{"m":"Full FT","s":74,"v":0.245},{"m":"Full FT","s":76,"v":0.250},{"m":"Full FT","s":78,"v":0.255},
      {"m":"Full FT","s":80,"v":0.245},{"m":"Full FT","s":82,"v":0.238},{"m":"Full FT","s":84,"v":0.250},{"m":"Full FT","s":86,"v":0.258},{"m":"Full FT","s":88,"v":0.245},{"m":"Full FT","s":90,"v":0.238},{"m":"Full FT","s":92,"v":0.236},{"m":"Full FT","s":94,"v":0.250},{"m":"Full FT","s":96,"v":0.227},{"m":"Full FT","s":98,"v":0.238},{"m":"Full FT","s":99,"v":0.240},

      {"m":"PiSSA","s":0,"v":0.680},{"m":"PiSSA","s":2,"v":0.700},{"m":"PiSSA","s":4,"v":0.698},{"m":"PiSSA","s":6,"v":0.700},{"m":"PiSSA","s":8,"v":0.715},{"m":"PiSSA","s":10,"v":0.689},{"m":"PiSSA","s":12,"v":0.690},{"m":"PiSSA","s":14,"v":0.680},{"m":"PiSSA","s":16,"v":0.665},{"m":"PiSSA","s":18,"v":0.630},
      {"m":"PiSSA","s":20,"v":0.618},{"m":"PiSSA","s":22,"v":0.560},{"m":"PiSSA","s":24,"v":0.520},{"m":"PiSSA","s":26,"v":0.484},{"m":"PiSSA","s":28,"v":0.467},{"m":"PiSSA","s":30,"v":0.422},{"m":"PiSSA","s":32,"v":0.390},{"m":"PiSSA","s":34,"v":0.369},{"m":"PiSSA","s":36,"v":0.375},{"m":"PiSSA","s":38,"v":0.355},
      {"m":"PiSSA","s":40,"v":0.345},{"m":"PiSSA","s":42,"v":0.342},{"m":"PiSSA","s":44,"v":0.335},{"m":"PiSSA","s":46,"v":0.330},{"m":"PiSSA","s":48,"v":0.315},{"m":"PiSSA","s":50,"v":0.305},{"m":"PiSSA","s":52,"v":0.300},{"m":"PiSSA","s":54,"v":0.280},{"m":"PiSSA","s":56,"v":0.253},{"m":"PiSSA","s":58,"v":0.280},
      {"m":"PiSSA","s":60,"v":0.253},{"m":"PiSSA","s":62,"v":0.250},{"m":"PiSSA","s":64,"v":0.252},{"m":"PiSSA","s":66,"v":0.255},{"m":"PiSSA","s":68,"v":0.258},{"m":"PiSSA","s":70,"v":0.253},{"m":"PiSSA","s":72,"v":0.248},{"m":"PiSSA","s":74,"v":0.244},{"m":"PiSSA","s":76,"v":0.253},{"m":"PiSSA","s":78,"v":0.248},
      {"m":"PiSSA","s":80,"v":0.244},{"m":"PiSSA","s":82,"v":0.253},{"m":"PiSSA","s":84,"v":0.246},{"m":"PiSSA","s":86,"v":0.244},{"m":"PiSSA","s":88,"v":0.246},{"m":"PiSSA","s":90,"v":0.212},{"m":"PiSSA","s":92,"v":0.240},{"m":"PiSSA","s":94,"v":0.245},{"m":"PiSSA","s":96,"v":0.244},{"m":"PiSSA","s":98,"v":0.250},{"m":"PiSSA","s":99,"v":0.230}
    ],
    "gradMain": [
      {"m":"QLoRA","s":0,"v":0.87},{"m":"QLoRA","s":100,"v":0.24},{"m":"QLoRA","s":200,"v":0.30},{"m":"QLoRA","s":300,"v":0.27},{"m":"QLoRA","s":400,"v":0.26},{"m":"QLoRA","s":500,"v":0.25},{"m":"QLoRA","s":600,"v":0.25},{"m":"QLoRA","s":700,"v":0.245},{"m":"QLoRA","s":800,"v":0.24},{"m":"QLoRA","s":900,"v":0.235},
      {"m":"QLoRA","s":1000,"v":0.23},{"m":"QLoRA","s":1100,"v":0.232},{"m":"QLoRA","s":1200,"v":0.225},{"m":"QLoRA","s":1300,"v":0.23},{"m":"QLoRA","s":1400,"v":0.225},{"m":"QLoRA","s":1500,"v":0.228},{"m":"QLoRA","s":1600,"v":0.222},{"m":"QLoRA","s":1700,"v":0.225},{"m":"QLoRA","s":1800,"v":0.22},{"m":"QLoRA","s":1900,"v":0.222},
      {"m":"QLoRA","s":2000,"v":0.22},{"m":"QLoRA","s":2100,"v":0.218},{"m":"QLoRA","s":2200,"v":0.22},{"m":"QLoRA","s":2300,"v":0.215},{"m":"QLoRA","s":2400,"v":0.27},{"m":"QLoRA","s":2500,"v":0.218},{"m":"QLoRA","s":2600,"v":0.215},{"m":"QLoRA","s":2700,"v":0.212},{"m":"QLoRA","s":2800,"v":0.215},{"m":"QLoRA","s":2900,"v":0.21},
      {"m":"QLoRA","s":3000,"v":0.212},{"m":"QLoRA","s":3100,"v":0.21},{"m":"QLoRA","s":3200,"v":0.21},{"m":"QLoRA","s":3300,"v":0.212},{"m":"QLoRA","s":3400,"v":0.208},{"m":"QLoRA","s":3500,"v":0.21},{"m":"QLoRA","s":3600,"v":0.208},{"m":"QLoRA","s":3700,"v":0.21},{"m":"QLoRA","s":3800,"v":0.212},{"m":"QLoRA","s":3900,"v":0.21},
      {"m":"QLoRA","s":4000,"v":0.208},{"m":"QLoRA","s":4100,"v":0.212},{"m":"QLoRA","s":4200,"v":0.21},{"m":"QLoRA","s":4300,"v":0.21},{"m":"QLoRA","s":4400,"v":0.212},{"m":"QLoRA","s":4500,"v":0.215},{"m":"QLoRA","s":4600,"v":0.21},{"m":"QLoRA","s":4700,"v":0.212},{"m":"QLoRA","s":4800,"v":0.21},{"m":"QLoRA","s":4900,"v":0.212},
      {"m":"QLoRA","s":5000,"v":0.21},{"m":"QLoRA","s":5100,"v":0.212},{"m":"QLoRA","s":5200,"v":0.21},{"m":"QLoRA","s":5300,"v":0.212},{"m":"QLoRA","s":5400,"v":0.21},{"m":"QLoRA","s":5500,"v":0.21},{"m":"QLoRA","s":5600,"v":0.212},{"m":"QLoRA","s":5700,"v":0.215},{"m":"QLoRA","s":5800,"v":0.21},{"m":"QLoRA","s":5900,"v":0.212},
      {"m":"QLoRA","s":6000,"v":0.21},{"m":"QLoRA","s":6100,"v":0.212},{"m":"QLoRA","s":6200,"v":0.21},{"m":"QLoRA","s":6300,"v":0.212},{"m":"QLoRA","s":6400,"v":0.215},{"m":"QLoRA","s":6500,"v":0.212},{"m":"QLoRA","s":6600,"v":0.21},{"m":"QLoRA","s":6700,"v":0.212},{"m":"QLoRA","s":6800,"v":0.215},{"m":"QLoRA","s":6900,"v":0.212},
      {"m":"QLoRA","s":7000,"v":0.21},{"m":"QLoRA","s":7100,"v":0.212},{"m":"QLoRA","s":7200,"v":0.215},{"m":"QLoRA","s":7300,"v":0.212},{"m":"QLoRA","s":7400,"v":0.22},{"m":"QLoRA","s":7500,"v":0.225},{"m":"QLoRA","s":7600,"v":0.235},{"m":"QLoRA","s":7700,"v":0.222},{"m":"QLoRA","s":7800,"v":0.22},{"m":"QLoRA","s":7900,"v":0.218},
      {"m":"QLoRA","s":8000,"v":0.31},{"m":"QLoRA","s":8100,"v":0.225},{"m":"QLoRA","s":8200,"v":0.22},{"m":"QLoRA","s":8300,"v":0.222},{"m":"QLoRA","s":8400,"v":0.22},{"m":"QLoRA","s":8500,"v":0.225},{"m":"QLoRA","s":8600,"v":0.222},{"m":"QLoRA","s":8700,"v":0.22},{"m":"QLoRA","s":8800,"v":0.222},{"m":"QLoRA","s":8900,"v":0.22},
      {"m":"QLoRA","s":9000,"v":0.218},{"m":"QLoRA","s":9100,"v":0.22},{"m":"QLoRA","s":9200,"v":0.225},

      {"m":"LoftQ","s":0,"v":1.45},{"m":"LoftQ","s":100,"v":0.28},{"m":"LoftQ","s":200,"v":0.27},{"m":"LoftQ","s":300,"v":0.25},{"m":"LoftQ","s":400,"v":0.245},{"m":"LoftQ","s":500,"v":0.24},{"m":"LoftQ","s":600,"v":0.245},{"m":"LoftQ","s":700,"v":0.235},{"m":"LoftQ","s":800,"v":0.23},{"m":"LoftQ","s":900,"v":0.225},
      {"m":"LoftQ","s":1000,"v":0.225},{"m":"LoftQ","s":1100,"v":0.225},{"m":"LoftQ","s":1200,"v":0.22},{"m":"LoftQ","s":1300,"v":0.222},{"m":"LoftQ","s":1400,"v":0.225},{"m":"LoftQ","s":1500,"v":0.22},{"m":"LoftQ","s":1600,"v":0.225},{"m":"LoftQ","s":1700,"v":0.222},{"m":"LoftQ","s":1800,"v":0.218},{"m":"LoftQ","s":1900,"v":0.22},
      {"m":"LoftQ","s":2000,"v":0.218},{"m":"LoftQ","s":2100,"v":0.23},{"m":"LoftQ","s":2200,"v":0.215},{"m":"LoftQ","s":2300,"v":0.218},{"m":"LoftQ","s":2400,"v":0.215},{"m":"LoftQ","s":2500,"v":0.215},{"m":"LoftQ","s":2600,"v":0.205},{"m":"LoftQ","s":2700,"v":0.215},{"m":"LoftQ","s":2800,"v":0.212},{"m":"LoftQ","s":2900,"v":0.21},
      {"m":"LoftQ","s":3000,"v":0.212},{"m":"LoftQ","s":3100,"v":0.21},{"m":"LoftQ","s":3200,"v":0.212},{"m":"LoftQ","s":3300,"v":0.208},{"m":"LoftQ","s":3400,"v":0.21},{"m":"LoftQ","s":3500,"v":0.205},{"m":"LoftQ","s":3600,"v":0.21},{"m":"LoftQ","s":3700,"v":0.212},{"m":"LoftQ","s":3800,"v":0.208},{"m":"LoftQ","s":3900,"v":0.21},
      {"m":"LoftQ","s":4000,"v":0.208},{"m":"LoftQ","s":4100,"v":0.21},{"m":"LoftQ","s":4200,"v":0.205},{"m":"LoftQ","s":4300,"v":0.208},{"m":"LoftQ","s":4400,"v":0.205},{"m":"LoftQ","s":4500,"v":0.21},{"m":"LoftQ","s":4600,"v":0.208},{"m":"LoftQ","s":4700,"v":0.205},{"m":"LoftQ","s":4800,"v":0.208},{"m":"LoftQ","s":4900,"v":0.21},
      {"m":"LoftQ","s":5000,"v":0.205},{"m":"LoftQ","s":5100,"v":0.208},{"m":"LoftQ","s":5200,"v":0.21},{"m":"LoftQ","s":5300,"v":0.205},{"m":"LoftQ","s":5400,"v":0.208},{"m":"LoftQ","s":5500,"v":0.205},{"m":"LoftQ","s":5600,"v":0.208},{"m":"LoftQ","s":5700,"v":0.21},{"m":"LoftQ","s":5800,"v":0.205},{"m":"LoftQ","s":5900,"v":0.208},
      {"m":"LoftQ","s":6000,"v":0.205},{"m":"LoftQ","s":6100,"v":0.21},{"m":"LoftQ","s":6200,"v":0.205},{"m":"LoftQ","s":6300,"v":0.21},{"m":"LoftQ","s":6400,"v":0.208},{"m":"LoftQ","s":6500,"v":0.21},{"m":"LoftQ","s":6600,"v":0.205},{"m":"LoftQ","s":6700,"v":0.21},{"m":"LoftQ","s":6800,"v":0.212},{"m":"LoftQ","s":6900,"v":0.205},
      {"m":"LoftQ","s":7000,"v":0.21},{"m":"LoftQ","s":7100,"v":0.20},{"m":"LoftQ","s":7200,"v":0.205},{"m":"LoftQ","s":7300,"v":0.21},{"m":"LoftQ","s":7400,"v":0.215},{"m":"LoftQ","s":7500,"v":0.22},{"m":"LoftQ","s":7600,"v":0.215},{"m":"LoftQ","s":7700,"v":0.21},{"m":"LoftQ","s":7800,"v":0.205},{"m":"LoftQ","s":7900,"v":0.21},
      {"m":"LoftQ","s":8000,"v":0.205},{"m":"LoftQ","s":8100,"v":0.21},{"m":"LoftQ","s":8200,"v":0.208},{"m":"LoftQ","s":8300,"v":0.21},{"m":"LoftQ","s":8400,"v":0.215},{"m":"LoftQ","s":8500,"v":0.21},{"m":"LoftQ","s":8600,"v":0.208},{"m":"LoftQ","s":8700,"v":0.22},{"m":"LoftQ","s":8800,"v":0.21},{"m":"LoftQ","s":8900,"v":0.215},
      {"m":"LoftQ","s":9000,"v":0.208},{"m":"LoftQ","s":9100,"v":0.212},{"m":"LoftQ","s":9200,"v":0.21},

      {"m":"QPiSSA","s":0,"v":7.8},{"m":"QPiSSA","s":100,"v":1.24},{"m":"QPiSSA","s":200,"v":1.12},{"m":"QPiSSA","s":300,"v":0.97},{"m":"QPiSSA","s":400,"v":0.87},{"m":"QPiSSA","s":500,"v":0.86},{"m":"QPiSSA","s":600,"v":0.81},{"m":"QPiSSA","s":700,"v":0.80},{"m":"QPiSSA","s":800,"v":0.83},{"m":"QPiSSA","s":900,"v":0.74},
      {"m":"QPiSSA","s":1000,"v":0.86},{"m":"QPiSSA","s":1100,"v":0.71},{"m":"QPiSSA","s":1200,"v":0.72},{"m":"QPiSSA","s":1300,"v":0.71},{"m":"QPiSSA","s":1400,"v":0.73},{"m":"QPiSSA","s":1500,"v":0.69},{"m":"QPiSSA","s":1600,"v":0.74},{"m":"QPiSSA","s":1700,"v":0.69},{"m":"QPiSSA","s":1800,"v":0.70},{"m":"QPiSSA","s":1900,"v":0.66},
      {"m":"QPiSSA","s":2000,"v":0.66},{"m":"QPiSSA","s":2100,"v":0.70},{"m":"QPiSSA","s":2200,"v":0.64},{"m":"QPiSSA","s":2300,"v":0.65},{"m":"QPiSSA","s":2400,"v":0.66},{"m":"QPiSSA","s":2500,"v":0.70},{"m":"QPiSSA","s":2600,"v":0.59},{"m":"QPiSSA","s":2700,"v":0.65},{"m":"QPiSSA","s":2800,"v":0.68},{"m":"QPiSSA","s":2900,"v":0.63},
      {"m":"QPiSSA","s":3000,"v":0.62},{"m":"QPiSSA","s":3100,"v":0.63},{"m":"QPiSSA","s":3200,"v":0.60},{"m":"QPiSSA","s":3300,"v":0.64},{"m":"QPiSSA","s":3400,"v":0.61},{"m":"QPiSSA","s":3500,"v":0.59},{"m":"QPiSSA","s":3600,"v":0.62},{"m":"QPiSSA","s":3700,"v":0.66},{"m":"QPiSSA","s":3800,"v":0.62},{"m":"QPiSSA","s":3900,"v":0.64},
      {"m":"QPiSSA","s":4000,"v":0.65},{"m":"QPiSSA","s":4100,"v":0.62},{"m":"QPiSSA","s":4200,"v":0.63},{"m":"QPiSSA","s":4300,"v":0.61},{"m":"QPiSSA","s":4400,"v":0.60},{"m":"QPiSSA","s":4500,"v":0.62},{"m":"QPiSSA","s":4600,"v":0.64},{"m":"QPiSSA","s":4700,"v":0.59},{"m":"QPiSSA","s":4800,"v":0.62},{"m":"QPiSSA","s":4900,"v":0.61},
      {"m":"QPiSSA","s":5000,"v":0.62},{"m":"QPiSSA","s":5100,"v":0.61},{"m":"QPiSSA","s":5200,"v":0.60},{"m":"QPiSSA","s":5300,"v":0.62},{"m":"QPiSSA","s":5400,"v":0.61},{"m":"QPiSSA","s":5500,"v":0.62},{"m":"QPiSSA","s":5600,"v":0.60},{"m":"QPiSSA","s":5700,"v":0.62},{"m":"QPiSSA","s":5800,"v":0.60},{"m":"QPiSSA","s":5900,"v":0.61},
      {"m":"QPiSSA","s":6000,"v":0.60},{"m":"QPiSSA","s":6100,"v":0.59},{"m":"QPiSSA","s":6200,"v":0.55},{"m":"QPiSSA","s":6300,"v":0.63},{"m":"QPiSSA","s":6400,"v":0.62},{"m":"QPiSSA","s":6500,"v":0.61},{"m":"QPiSSA","s":6600,"v":0.61},{"m":"QPiSSA","s":6700,"v":0.61},{"m":"QPiSSA","s":6800,"v":0.63},{"m":"QPiSSA","s":6900,"v":0.62},
      {"m":"QPiSSA","s":7000,"v":0.61},{"m":"QPiSSA","s":7100,"v":0.57},{"m":"QPiSSA","s":7200,"v":0.61},{"m":"QPiSSA","s":7300,"v":0.61},{"m":"QPiSSA","s":7400,"v":0.64},{"m":"QPiSSA","s":7500,"v":0.64},{"m":"QPiSSA","s":7600,"v":0.67},{"m":"QPiSSA","s":7700,"v":0.62},{"m":"QPiSSA","s":7800,"v":0.63},{"m":"QPiSSA","s":7900,"v":0.62},
      {"m":"QPiSSA","s":8000,"v":0.62},{"m":"QPiSSA","s":8100,"v":0.62},{"m":"QPiSSA","s":8200,"v":0.62},{"m":"QPiSSA","s":8300,"v":0.61},{"m":"QPiSSA","s":8400,"v":0.61},{"m":"QPiSSA","s":8500,"v":0.62},{"m":"QPiSSA","s":8600,"v":0.64},{"m":"QPiSSA","s":8700,"v":0.63},{"m":"QPiSSA","s":8800,"v":0.61},{"m":"QPiSSA","s":8900,"v":0.60},
      {"m":"QPiSSA","s":9000,"v":0.58},{"m":"QPiSSA","s":9100,"v":0.61},{"m":"QPiSSA","s":9200,"v":0.62},

      {"m":"LoRA","s":0,"v":0.87},{"m":"LoRA","s":100,"v":0.22},{"m":"LoRA","s":200,"v":0.26},{"m":"LoRA","s":300,"v":0.255},{"m":"LoRA","s":400,"v":0.25},{"m":"LoRA","s":500,"v":0.245},{"m":"LoRA","s":600,"v":0.25},{"m":"LoRA","s":700,"v":0.24},{"m":"LoRA","s":800,"v":0.235},{"m":"LoRA","s":900,"v":0.23},
      {"m":"LoRA","s":1000,"v":0.23},{"m":"LoRA","s":1100,"v":0.225},{"m":"LoRA","s":1200,"v":0.228},{"m":"LoRA","s":1300,"v":0.225},{"m":"LoRA","s":1400,"v":0.222},{"m":"LoRA","s":1500,"v":0.225},{"m":"LoRA","s":1600,"v":0.22},{"m":"LoRA","s":1700,"v":0.222},{"m":"LoRA","s":1800,"v":0.22},{"m":"LoRA","s":1900,"v":0.218},
      {"m":"LoRA","s":2000,"v":0.22},{"m":"LoRA","s":2100,"v":0.215},{"m":"LoRA","s":2200,"v":0.218},{"m":"LoRA","s":2300,"v":0.215},{"m":"LoRA","s":2400,"v":0.212},{"m":"LoRA","s":2500,"v":0.215},{"m":"LoRA","s":2600,"v":0.21},{"m":"LoRA","s":2700,"v":0.212},{"m":"LoRA","s":2800,"v":0.21},{"m":"LoRA","s":2900,"v":0.21},
      {"m":"LoRA","s":3000,"v":0.208},{"m":"LoRA","s":3100,"v":0.21},{"m":"LoRA","s":3200,"v":0.208},{"m":"LoRA","s":3300,"v":0.21},{"m":"LoRA","s":3400,"v":0.205},{"m":"LoRA","s":3500,"v":0.208},{"m":"LoRA","s":3600,"v":0.205},{"m":"LoRA","s":3700,"v":0.21},{"m":"LoRA","s":3800,"v":0.208},{"m":"LoRA","s":3900,"v":0.205},
      {"m":"LoRA","s":4000,"v":0.21},{"m":"LoRA","s":4100,"v":0.21},{"m":"LoRA","s":4200,"v":0.208},{"m":"LoRA","s":4300,"v":0.212},{"m":"LoRA","s":4400,"v":0.21},{"m":"LoRA","s":4500,"v":0.212},{"m":"LoRA","s":4600,"v":0.21},{"m":"LoRA","s":4700,"v":0.21},{"m":"LoRA","s":4800,"v":0.212},{"m":"LoRA","s":4900,"v":0.21},
      {"m":"LoRA","s":5000,"v":0.212},{"m":"LoRA","s":5100,"v":0.21},{"m":"LoRA","s":5200,"v":0.208},{"m":"LoRA","s":5300,"v":0.21},{"m":"LoRA","s":5400,"v":0.21},{"m":"LoRA","s":5500,"v":0.208},{"m":"LoRA","s":5600,"v":0.21},{"m":"LoRA","s":5700,"v":0.212},{"m":"LoRA","s":5800,"v":0.21},{"m":"LoRA","s":5900,"v":0.21},
      {"m":"LoRA","s":6000,"v":0.212},{"m":"LoRA","s":6100,"v":0.21},{"m":"LoRA","s":6200,"v":0.208},{"m":"LoRA","s":6300,"v":0.21},{"m":"LoRA","s":6400,"v":0.212},{"m":"LoRA","s":6500,"v":0.21},{"m":"LoRA","s":6600,"v":0.212},{"m":"LoRA","s":6700,"v":0.21},{"m":"LoRA","s":6800,"v":0.212},{"m":"LoRA","s":6900,"v":0.215},
      {"m":"LoRA","s":7000,"v":0.212},{"m":"LoRA","s":7100,"v":0.21},{"m":"LoRA","s":7200,"v":0.212},{"m":"LoRA","s":7300,"v":0.215},{"m":"LoRA","s":7400,"v":0.218},{"m":"LoRA","s":7500,"v":0.22},{"m":"LoRA","s":7600,"v":0.225},{"m":"LoRA","s":7700,"v":0.22},{"m":"LoRA","s":7800,"v":0.218},{"m":"LoRA","s":7900,"v":0.215},
      {"m":"LoRA","s":8000,"v":0.22},{"m":"LoRA","s":8100,"v":0.218},{"m":"LoRA","s":8200,"v":0.215},{"m":"LoRA","s":8300,"v":0.218},{"m":"LoRA","s":8400,"v":0.22},{"m":"LoRA","s":8500,"v":0.218},{"m":"LoRA","s":8600,"v":0.22},{"m":"LoRA","s":8700,"v":0.215},{"m":"LoRA","s":8800,"v":0.218},{"m":"LoRA","s":8900,"v":0.22},
      {"m":"LoRA","s":9000,"v":0.215},{"m":"LoRA","s":9100,"v":0.218},{"m":"LoRA","s":9200,"v":0.22},

      {"m":"Full FT","s":0,"v":11.6},{"m":"Full FT","s":100,"v":1.95},{"m":"Full FT","s":200,"v":1.95},{"m":"Full FT","s":300,"v":1.48},{"m":"Full FT","s":400,"v":1.43},{"m":"Full FT","s":500,"v":1.26},{"m":"Full FT","s":600,"v":1.24},{"m":"Full FT","s":700,"v":1.12},{"m":"Full FT","s":800,"v":1.12},{"m":"Full FT","s":900,"v":1.15},
      {"m":"Full FT","s":1000,"v":1.13},{"m":"Full FT","s":1100,"v":1.09},{"m":"Full FT","s":1200,"v":1.08},{"m":"Full FT","s":1300,"v":1.06},{"m":"Full FT","s":1400,"v":1.05},{"m":"Full FT","s":1500,"v":1.21},{"m":"Full FT","s":1600,"v":1.00},{"m":"Full FT","s":1700,"v":1.05},{"m":"Full FT","s":1800,"v":1.04},{"m":"Full FT","s":1900,"v":1.03},
      {"m":"Full FT","s":2000,"v":1.00},{"m":"Full FT","s":2100,"v":0.98},{"m":"Full FT","s":2200,"v":1.03},{"m":"Full FT","s":2300,"v":1.00},{"m":"Full FT","s":2400,"v":0.90},{"m":"Full FT","s":2500,"v":1.08},{"m":"Full FT","s":2600,"v":0.93},{"m":"Full FT","s":2700,"v":0.99},{"m":"Full FT","s":2800,"v":0.88},{"m":"Full FT","s":2900,"v":0.91},
      {"m":"Full FT","s":3000,"v":0.90},{"m":"Full FT","s":3100,"v":0.95},{"m":"Full FT","s":3200,"v":1.00},{"m":"Full FT","s":3300,"v":0.93},{"m":"Full FT","s":3400,"v":0.96},{"m":"Full FT","s":3500,"v":1.00},{"m":"Full FT","s":3600,"v":0.92},{"m":"Full FT","s":3700,"v":0.88},{"m":"Full FT","s":3800,"v":0.96},{"m":"Full FT","s":3900,"v":1.10},
      {"m":"Full FT","s":4000,"v":0.93},{"m":"Full FT","s":4100,"v":1.02},{"m":"Full FT","s":4200,"v":1.02},{"m":"Full FT","s":4300,"v":1.04},{"m":"Full FT","s":4400,"v":0.95},{"m":"Full FT","s":4500,"v":1.00},{"m":"Full FT","s":4600,"v":0.99},{"m":"Full FT","s":4700,"v":0.99},{"m":"Full FT","s":4800,"v":1.02},{"m":"Full FT","s":4900,"v":1.10},
      {"m":"Full FT","s":5000,"v":1.00},{"m":"Full FT","s":5100,"v":1.01},{"m":"Full FT","s":5200,"v":1.03},{"m":"Full FT","s":5300,"v":0.99},{"m":"Full FT","s":5400,"v":0.97},{"m":"Full FT","s":5500,"v":0.93},{"m":"Full FT","s":5600,"v":0.99},{"m":"Full FT","s":5700,"v":1.08},{"m":"Full FT","s":5800,"v":0.96},{"m":"Full FT","s":5900,"v":0.95},
      {"m":"Full FT","s":6000,"v":0.97},{"m":"Full FT","s":6100,"v":0.93},{"m":"Full FT","s":6200,"v":0.85},{"m":"Full FT","s":6300,"v":1.00},{"m":"Full FT","s":6400,"v":1.00},{"m":"Full FT","s":6500,"v":0.98},{"m":"Full FT","s":6600,"v":0.99},{"m":"Full FT","s":6700,"v":1.00},{"m":"Full FT","s":6800,"v":1.00},{"m":"Full FT","s":6900,"v":1.10},
      {"m":"Full FT","s":7000,"v":0.98},{"m":"Full FT","s":7100,"v":1.00},{"m":"Full FT","s":7200,"v":0.99},{"m":"Full FT","s":7300,"v":0.97},{"m":"Full FT","s":7400,"v":0.98},{"m":"Full FT","s":7500,"v":1.00},{"m":"Full FT","s":7600,"v":1.05},{"m":"Full FT","s":7700,"v":1.00},{"m":"Full FT","s":7800,"v":0.98},{"m":"Full FT","s":7900,"v":0.97},
      {"m":"Full FT","s":8000,"v":1.10},{"m":"Full FT","s":8100,"v":1.00},{"m":"Full FT","s":8200,"v":1.05},{"m":"Full FT","s":8300,"v":1.02},{"m":"Full FT","s":8400,"v":0.98},{"m":"Full FT","s":8500,"v":0.99},{"m":"Full FT","s":8600,"v":1.00},{"m":"Full FT","s":8700,"v":1.02},{"m":"Full FT","s":8800,"v":0.98},{"m":"Full FT","s":8900,"v":0.97},
      {"m":"Full FT","s":9000,"v":0.95},{"m":"Full FT","s":9100,"v":0.93},{"m":"Full FT","s":9200,"v":1.00},

      {"m":"PiSSA","s":0,"v":6.7},{"m":"PiSSA","s":100,"v":1.27},{"m":"PiSSA","s":200,"v":1.14},{"m":"PiSSA","s":300,"v":0.96},{"m":"PiSSA","s":400,"v":0.86},{"m":"PiSSA","s":500,"v":0.85},{"m":"PiSSA","s":600,"v":0.80},{"m":"PiSSA","s":700,"v":0.95},{"m":"PiSSA","s":800,"v":0.82},{"m":"PiSSA","s":900,"v":0.72},
      {"m":"PiSSA","s":1000,"v":0.84},{"m":"PiSSA","s":1100,"v":0.70},{"m":"PiSSA","s":1200,"v":0.70},{"m":"PiSSA","s":1300,"v":0.72},{"m":"PiSSA","s":1400,"v":0.71},{"m":"PiSSA","s":1500,"v":0.68},{"m":"PiSSA","s":1600,"v":0.75},{"m":"PiSSA","s":1700,"v":0.68},{"m":"PiSSA","s":1800,"v":0.68},{"m":"PiSSA","s":1900,"v":0.65},
      {"m":"PiSSA","s":2000,"v":0.65},{"m":"PiSSA","s":2100,"v":0.71},{"m":"PiSSA","s":2200,"v":0.62},{"m":"PiSSA","s":2300,"v":0.64},{"m":"PiSSA","s":2400,"v":0.64},{"m":"PiSSA","s":2500,"v":0.72},{"m":"PiSSA","s":2600,"v":0.57},{"m":"PiSSA","s":2700,"v":0.64},{"m":"PiSSA","s":2800,"v":0.69},{"m":"PiSSA","s":2900,"v":0.62},
      {"m":"PiSSA","s":3000,"v":0.61},{"m":"PiSSA","s":3100,"v":0.61},{"m":"PiSSA","s":3200,"v":0.62},{"m":"PiSSA","s":3300,"v":0.63},{"m":"PiSSA","s":3400,"v":0.60},{"m":"PiSSA","s":3500,"v":0.58},{"m":"PiSSA","s":3600,"v":0.61},{"m":"PiSSA","s":3700,"v":0.68},{"m":"PiSSA","s":3800,"v":0.61},{"m":"PiSSA","s":3900,"v":0.63},
      {"m":"PiSSA","s":4000,"v":0.66},{"m":"PiSSA","s":4100,"v":0.60},{"m":"PiSSA","s":4200,"v":0.61},{"m":"PiSSA","s":4300,"v":0.62},{"m":"PiSSA","s":4400,"v":0.58},{"m":"PiSSA","s":4500,"v":0.61},{"m":"PiSSA","s":4600,"v":0.66},{"m":"PiSSA","s":4700,"v":0.57},{"m":"PiSSA","s":4800,"v":0.61},{"m":"PiSSA","s":4900,"v":0.60},
      {"m":"PiSSA","s":5000,"v":0.61},{"m":"PiSSA","s":5100,"v":0.60},{"m":"PiSSA","s":5200,"v":0.61},{"m":"PiSSA","s":5300,"v":0.61},{"m":"PiSSA","s":5400,"v":0.60},{"m":"PiSSA","s":5500,"v":0.61},{"m":"PiSSA","s":5600,"v":0.61},{"m":"PiSSA","s":5700,"v":0.60},{"m":"PiSSA","s":5800,"v":0.58},{"m":"PiSSA","s":5900,"v":0.61},
      {"m":"PiSSA","s":6000,"v":0.59},{"m":"PiSSA","s":6100,"v":0.58},{"m":"PiSSA","s":6200,"v":0.54},{"m":"PiSSA","s":6300,"v":0.62},{"m":"PiSSA","s":6400,"v":0.61},{"m":"PiSSA","s":6500,"v":0.60},{"m":"PiSSA","s":6600,"v":0.60},{"m":"PiSSA","s":6700,"v":0.62},{"m":"PiSSA","s":6800,"v":0.62},{"m":"PiSSA","s":6900,"v":0.61},
      {"m":"PiSSA","s":7000,"v":0.60},{"m":"PiSSA","s":7100,"v":0.55},{"m":"PiSSA","s":7200,"v":0.60},{"m":"PiSSA","s":7300,"v":0.62},{"m":"PiSSA","s":7400,"v":0.63},{"m":"PiSSA","s":7500,"v":0.65},{"m":"PiSSA","s":7600,"v":0.68},{"m":"PiSSA","s":7700,"v":0.61},{"m":"PiSSA","s":7800,"v":0.62},{"m":"PiSSA","s":7900,"v":0.60},
      {"m":"PiSSA","s":8000,"v":0.61},{"m":"PiSSA","s":8100,"v":0.63},{"m":"PiSSA","s":8200,"v":0.61},{"m":"PiSSA","s":8300,"v":0.59},{"m":"PiSSA","s":8400,"v":0.62},{"m":"PiSSA","s":8500,"v":0.61},{"m":"PiSSA","s":8600,"v":0.66},{"m":"PiSSA","s":8700,"v":0.62},{"m":"PiSSA","s":8800,"v":0.59},{"m":"PiSSA","s":8900,"v":0.58},
      {"m":"PiSSA","s":9000,"v":0.56},{"m":"PiSSA","s":9100,"v":0.60},{"m":"PiSSA","s":9200,"v":0.63}
    ],
    "gradInset": [
      {"m":"QLoRA","s":0,"v":0.88},{"m":"QLoRA","s":2,"v":0.87},{"m":"QLoRA","s":4,"v":0.86},{"m":"QLoRA","s":6,"v":0.86},{"m":"QLoRA","s":8,"v":0.87},{"m":"QLoRA","s":10,"v":0.85},{"m":"QLoRA","s":12,"v":0.86},{"m":"QLoRA","s":14,"v":0.85},{"m":"QLoRA","s":16,"v":0.85},{"m":"QLoRA","s":18,"v":0.84},
      {"m":"QLoRA","s":20,"v":0.85},{"m":"QLoRA","s":22,"v":0.84},{"m":"QLoRA","s":24,"v":0.83},{"m":"QLoRA","s":26,"v":0.83},{"m":"QLoRA","s":28,"v":0.82},{"m":"QLoRA","s":30,"v":0.81},{"m":"QLoRA","s":32,"v":0.80},{"m":"QLoRA","s":34,"v":0.79},{"m":"QLoRA","s":36,"v":0.78},{"m":"QLoRA","s":38,"v":0.77},
      {"m":"QLoRA","s":40,"v":0.76},{"m":"QLoRA","s":42,"v":0.73},{"m":"QLoRA","s":44,"v":0.70},{"m":"QLoRA","s":46,"v":0.65},{"m":"QLoRA","s":48,"v":0.60},{"m":"QLoRA","s":50,"v":0.54},{"m":"QLoRA","s":52,"v":0.48},{"m":"QLoRA","s":54,"v":0.42},{"m":"QLoRA","s":56,"v":0.37},{"m":"QLoRA","s":58,"v":0.33},
      {"m":"QLoRA","s":60,"v":0.31},{"m":"QLoRA","s":62,"v":0.30},{"m":"QLoRA","s":64,"v":0.29},{"m":"QLoRA","s":66,"v":0.29},{"m":"QLoRA","s":68,"v":0.28},{"m":"QLoRA","s":70,"v":0.28},{"m":"QLoRA","s":72,"v":0.28},{"m":"QLoRA","s":74,"v":0.28},{"m":"QLoRA","s":76,"v":0.27},{"m":"QLoRA","s":78,"v":0.27},
      {"m":"QLoRA","s":80,"v":0.27},{"m":"QLoRA","s":82,"v":0.27},{"m":"QLoRA","s":84,"v":0.27},{"m":"QLoRA","s":86,"v":0.27},{"m":"QLoRA","s":88,"v":0.26},{"m":"QLoRA","s":90,"v":0.26},{"m":"QLoRA","s":92,"v":0.26},{"m":"QLoRA","s":94,"v":0.26},{"m":"QLoRA","s":96,"v":0.26},{"m":"QLoRA","s":98,"v":0.26},{"m":"QLoRA","s":99,"v":0.26},

      {"m":"LoftQ","s":0,"v":1.42},{"m":"LoftQ","s":2,"v":1.40},{"m":"LoftQ","s":4,"v":1.38},{"m":"LoftQ","s":6,"v":1.40},{"m":"LoftQ","s":8,"v":1.42},{"m":"LoftQ","s":10,"v":1.38},{"m":"LoftQ","s":12,"v":1.36},{"m":"LoftQ","s":14,"v":1.35},{"m":"LoftQ","s":16,"v":1.34},{"m":"LoftQ","s":18,"v":1.30},
      {"m":"LoftQ","s":20,"v":1.20},{"m":"LoftQ","s":22,"v":1.15},{"m":"LoftQ","s":24,"v":1.10},{"m":"LoftQ","s":26,"v":1.05},{"m":"LoftQ","s":28,"v":1.02},{"m":"LoftQ","s":30,"v":1.00},{"m":"LoftQ","s":32,"v":0.98},{"m":"LoftQ","s":34,"v":0.95},{"m":"LoftQ","s":36,"v":0.92},{"m":"LoftQ","s":38,"v":0.88},
      {"m":"LoftQ","s":40,"v":0.82},{"m":"LoftQ","s":42,"v":0.75},{"m":"LoftQ","s":44,"v":0.68},{"m":"LoftQ","s":46,"v":0.62},{"m":"LoftQ","s":48,"v":0.55},{"m":"LoftQ","s":50,"v":0.48},{"m":"LoftQ","s":52,"v":0.42},{"m":"LoftQ","s":54,"v":0.38},{"m":"LoftQ","s":56,"v":0.34},{"m":"LoftQ","s":58,"v":0.31},
      {"m":"LoftQ","s":60,"v":0.30},{"m":"LoftQ","s":62,"v":0.28},{"m":"LoftQ","s":64,"v":0.27},{"m":"LoftQ","s":66,"v":0.27},{"m":"LoftQ","s":68,"v":0.27},{"m":"LoftQ","s":70,"v":0.26},{"m":"LoftQ","s":72,"v":0.26},{"m":"LoftQ","s":74,"v":0.26},{"m":"LoftQ","s":76,"v":0.26},{"m":"LoftQ","s":78,"v":0.25},
      {"m":"LoftQ","s":80,"v":0.25},{"m":"LoftQ","s":82,"v":0.25},{"m":"LoftQ","s":84,"v":0.25},{"m":"LoftQ","s":86,"v":0.25},{"m":"LoftQ","s":88,"v":0.25},{"m":"LoftQ","s":90,"v":0.25},{"m":"LoftQ","s":92,"v":0.25},{"m":"LoftQ","s":94,"v":0.25},{"m":"LoftQ","s":96,"v":0.24},{"m":"LoftQ","s":98,"v":0.24},{"m":"LoftQ","s":99,"v":0.24},

      {"m":"QPiSSA","s":0,"v":7.9},{"m":"QPiSSA","s":2,"v":6.0},{"m":"QPiSSA","s":4,"v":5.1},{"m":"QPiSSA","s":6,"v":4.9},{"m":"QPiSSA","s":8,"v":5.0},{"m":"QPiSSA","s":10,"v":4.9},{"m":"QPiSSA","s":12,"v":4.9},{"m":"QPiSSA","s":14,"v":4.53},{"m":"QPiSSA","s":16,"v":4.2},{"m":"QPiSSA","s":18,"v":3.9},
      {"m":"QPiSSA","s":20,"v":3.4},{"m":"QPiSSA","s":22,"v":2.64},{"m":"QPiSSA","s":24,"v":2.15},{"m":"QPiSSA","s":26,"v":2.05},{"m":"QPiSSA","s":28,"v":2.0},{"m":"QPiSSA","s":30,"v":1.9},{"m":"QPiSSA","s":32,"v":1.7},{"m":"QPiSSA","s":34,"v":1.75},{"m":"QPiSSA","s":36,"v":1.65},{"m":"QPiSSA","s":38,"v":1.6},
      {"m":"QPiSSA","s":40,"v":1.55},{"m":"QPiSSA","s":42,"v":1.5},{"m":"QPiSSA","s":44,"v":1.48},{"m":"QPiSSA","s":46,"v":1.45},{"m":"QPiSSA","s":48,"v":1.4},{"m":"QPiSSA","s":50,"v":1.32},{"m":"QPiSSA","s":52,"v":1.3},{"m":"QPiSSA","s":54,"v":1.25},{"m":"QPiSSA","s":56,"v":1.2},{"m":"QPiSSA","s":58,"v":1.18},
      {"m":"QPiSSA","s":60,"v":1.15},{"m":"QPiSSA","s":62,"v":1.15},{"m":"QPiSSA","s":64,"v":1.12},{"m":"QPiSSA","s":66,"v":1.15},{"m":"QPiSSA","s":68,"v":1.12},{"m":"QPiSSA","s":70,"v":1.15},{"m":"QPiSSA","s":72,"v":1.1},{"m":"QPiSSA","s":74,"v":1.12},{"m":"QPiSSA","s":76,"v":1.15},{"m":"QPiSSA","s":78,"v":1.1},
      {"m":"QPiSSA","s":80,"v":1.7},{"m":"QPiSSA","s":82,"v":1.13},{"m":"QPiSSA","s":84,"v":1.12},{"m":"QPiSSA","s":86,"v":1.1},{"m":"QPiSSA","s":88,"v":1.12},{"m":"QPiSSA","s":90,"v":1.1},{"m":"QPiSSA","s":92,"v":1.08},{"m":"QPiSSA","s":94,"v":1.05},{"m":"QPiSSA","s":96,"v":1.05},{"m":"QPiSSA","s":98,"v":1.0},{"m":"QPiSSA","s":99,"v":0.95},

      {"m":"LoRA","s":0,"v":0.87},{"m":"LoRA","s":2,"v":0.86},{"m":"LoRA","s":4,"v":0.86},{"m":"LoRA","s":6,"v":0.85},{"m":"LoRA","s":8,"v":0.86},{"m":"LoRA","s":10,"v":0.85},{"m":"LoRA","s":12,"v":0.85},{"m":"LoRA","s":14,"v":0.85},{"m":"LoRA","s":16,"v":0.84},{"m":"LoRA","s":18,"v":0.84},
      {"m":"LoRA","s":20,"v":0.84},{"m":"LoRA","s":22,"v":0.83},{"m":"LoRA","s":24,"v":0.83},{"m":"LoRA","s":26,"v":0.82},{"m":"LoRA","s":28,"v":0.81},{"m":"LoRA","s":30,"v":0.80},{"m":"LoRA","s":32,"v":0.79},{"m":"LoRA","s":34,"v":0.78},{"m":"LoRA","s":36,"v":0.77},{"m":"LoRA","s":38,"v":0.76},
      {"m":"LoRA","s":40,"v":0.75},{"m":"LoRA","s":42,"v":0.72},{"m":"LoRA","s":44,"v":0.68},{"m":"LoRA","s":46,"v":0.63},{"m":"LoRA","s":48,"v":0.58},{"m":"LoRA","s":50,"v":0.52},{"m":"LoRA","s":52,"v":0.46},{"m":"LoRA","s":54,"v":0.40},{"m":"LoRA","s":56,"v":0.36},{"m":"LoRA","s":58,"v":0.32},
      {"m":"LoRA","s":60,"v":0.30},{"m":"LoRA","s":62,"v":0.29},{"m":"LoRA","s":64,"v":0.29},{"m":"LoRA","s":66,"v":0.28},{"m":"LoRA","s":68,"v":0.28},{"m":"LoRA","s":70,"v":0.28},{"m":"LoRA","s":72,"v":0.27},{"m":"LoRA","s":74,"v":0.27},{"m":"LoRA","s":76,"v":0.27},{"m":"LoRA","s":78,"v":0.27},
      {"m":"LoRA","s":80,"v":0.27},{"m":"LoRA","s":82,"v":0.27},{"m":"LoRA","s":84,"v":0.26},{"m":"LoRA","s":86,"v":0.26},{"m":"LoRA","s":88,"v":0.26},{"m":"LoRA","s":90,"v":0.26},{"m":"LoRA","s":92,"v":0.26},{"m":"LoRA","s":94,"v":0.26},{"m":"LoRA","s":96,"v":0.26},{"m":"LoRA","s":98,"v":0.26},{"m":"LoRA","s":99,"v":0.26},

      {"m":"Full FT","s":0,"v":11.6},{"m":"Full FT","s":2,"v":11.58},{"m":"Full FT","s":4,"v":10.83},{"m":"Full FT","s":6,"v":11.9},{"m":"Full FT","s":8,"v":10.0},{"m":"Full FT","s":10,"v":10.57},{"m":"Full FT","s":12,"v":10.2},{"m":"Full FT","s":14,"v":9.62},{"m":"Full FT","s":16,"v":9.6},{"m":"Full FT","s":18,"v":8.87},
      {"m":"Full FT","s":20,"v":7.81},{"m":"Full FT","s":22,"v":7.17},{"m":"Full FT","s":24,"v":8.1},{"m":"Full FT","s":26,"v":8.3},{"m":"Full FT","s":28,"v":7.17},{"m":"Full FT","s":30,"v":5.1},{"m":"Full FT","s":32,"v":4.72},{"m":"Full FT","s":34,"v":3.66},{"m":"Full FT","s":36,"v":3.58},{"m":"Full FT","s":38,"v":3.2},
      {"m":"Full FT","s":40,"v":3.0},{"m":"Full FT","s":42,"v":2.83},{"m":"Full FT","s":44,"v":2.6},{"m":"Full FT","s":46,"v":2.53},{"m":"Full FT","s":48,"v":2.4},{"m":"Full FT","s":50,"v":2.26},{"m":"Full FT","s":52,"v":2.35},{"m":"Full FT","s":54,"v":2.2},{"m":"Full FT","s":56,"v":2.3},{"m":"Full FT","s":58,"v":2.1},
      {"m":"Full FT","s":60,"v":2.2},{"m":"Full FT","s":62,"v":2.25},{"m":"Full FT","s":64,"v":2.2},{"m":"Full FT","s":66,"v":2.2},{"m":"Full FT","s":68,"v":2.26},{"m":"Full FT","s":70,"v":2.1},{"m":"Full FT","s":72,"v":2.2},{"m":"Full FT","s":74,"v":2.15},{"m":"Full FT","s":76,"v":2.1},{"m":"Full FT","s":78,"v":2.1},
      {"m":"Full FT","s":80,"v":2.15},{"m":"Full FT","s":82,"v":2.1},{"m":"Full FT","s":84,"v":2.08},{"m":"Full FT","s":86,"v":2.15},{"m":"Full FT","s":88,"v":2.0},{"m":"Full FT","s":90,"v":2.15},{"m":"Full FT","s":92,"v":2.1},{"m":"Full FT","s":94,"v":2.2},{"m":"Full FT","s":96,"v":1.85},{"m":"Full FT","s":98,"v":2.0},{"m":"Full FT","s":99,"v":1.98},

      {"m":"PiSSA","s":0,"v":6.8},{"m":"PiSSA","s":2,"v":6.6},{"m":"PiSSA","s":4,"v":6.23},{"m":"PiSSA","s":6,"v":6.35},{"m":"PiSSA","s":8,"v":6.4},{"m":"PiSSA","s":10,"v":6.6},{"m":"PiSSA","s":12,"v":5.85},{"m":"PiSSA","s":14,"v":6.0},{"m":"PiSSA","s":16,"v":5.1},{"m":"PiSSA","s":18,"v":4.9},
      {"m":"PiSSA","s":20,"v":4.72},{"m":"PiSSA","s":22,"v":3.77},{"m":"PiSSA","s":24,"v":3.9},{"m":"PiSSA","s":26,"v":3.58},{"m":"PiSSA","s":28,"v":3.2},{"m":"PiSSA","s":30,"v":4.34},{"m":"PiSSA","s":32,"v":4.64},{"m":"PiSSA","s":34,"v":2.45},{"m":"PiSSA","s":36,"v":1.9},{"m":"PiSSA","s":38,"v":1.7},
      {"m":"PiSSA","s":40,"v":1.5},{"m":"PiSSA","s":42,"v":1.55},{"m":"PiSSA","s":44,"v":1.4},{"m":"PiSSA","s":46,"v":1.25},{"m":"PiSSA","s":48,"v":1.35},{"m":"PiSSA","s":50,"v":1.3},{"m":"PiSSA","s":52,"v":1.25},{"m":"PiSSA","s":54,"v":1.2},{"m":"PiSSA","s":56,"v":1.3},{"m":"PiSSA","s":58,"v":1.2},
      {"m":"PiSSA","s":60,"v":1.15},{"m":"PiSSA","s":62,"v":1.2},{"m":"PiSSA","s":64,"v":1.3},{"m":"PiSSA","s":66,"v":1.25},{"m":"PiSSA","s":68,"v":1.2},{"m":"PiSSA","s":70,"v":1.3},{"m":"PiSSA","s":72,"v":1.25},{"m":"PiSSA","s":74,"v":1.2},{"m":"PiSSA","s":76,"v":1.3},{"m":"PiSSA","s":78,"v":1.22},
      {"m":"PiSSA","s":80,"v":1.25},{"m":"PiSSA","s":82,"v":1.3},{"m":"PiSSA","s":84,"v":1.2},{"m":"PiSSA","s":86,"v":1.15},{"m":"PiSSA","s":88,"v":1.2},{"m":"PiSSA","s":90,"v":1.18},{"m":"PiSSA","s":92,"v":1.12},{"m":"PiSSA","s":94,"v":1.1},{"m":"PiSSA","s":96,"v":1.08},{"m":"PiSSA","s":98,"v":1.05},{"m":"PiSSA","s":99,"v":1.02}
    ],
    "accuracy": [
      {"m":"QLoRA","s":1000,"v":72.4},{"m":"LoftQ","s":1000,"v":74.62},{"m":"QPiSSA","s":1000,"v":75.97},{"m":"LoRA","s":1000,"v":75.15},{"m":"Full FT","s":1000,"v":75.59},{"m":"PiSSA","s":1000,"v":76.6},
      {"m":"QLoRA","s":2000,"v":76.6},{"m":"LoftQ","s":2000,"v":76.79},{"m":"QPiSSA","s":2000,"v":77.71},{"m":"LoRA","s":2000,"v":75.59},{"m":"Full FT","s":2000,"v":77.18},{"m":"PiSSA","s":2000,"v":78.48},
      {"m":"QLoRA","s":3000,"v":75.3},{"m":"LoftQ","s":3000,"v":74.52},{"m":"QPiSSA","s":3000,"v":78.38},{"m":"LoRA","s":3000,"v":79.01},{"m":"Full FT","s":3000,"v":79.44},{"m":"PiSSA","s":3000,"v":77.27},
      {"m":"QLoRA","s":4000,"v":77.42},{"m":"LoftQ","s":4000,"v":78.62},{"m":"QPiSSA","s":4000,"v":78.33},{"m":"LoRA","s":4000,"v":78.91},{"m":"Full FT","s":4000,"v":80.89},{"m":"PiSSA","s":4000,"v":79.44},
      {"m":"QLoRA","s":5000,"v":77.42},{"m":"LoftQ","s":5000,"v":77.71},{"m":"QPiSSA","s":5000,"v":79.4},{"m":"LoRA","s":5000,"v":78.91},{"m":"Full FT","s":5000,"v":80.99},{"m":"PiSSA","s":5000,"v":79.68},
      {"m":"QLoRA","s":6000,"v":77.8},{"m":"LoftQ","s":6000,"v":78.77},{"m":"QPiSSA","s":6000,"v":81.42},{"m":"LoRA","s":6000,"v":79.01},{"m":"Full FT","s":6000,"v":81.42},{"m":"PiSSA","s":6000,"v":80.99},
      {"m":"QLoRA","s":7000,"v":78.33},{"m":"LoftQ","s":7000,"v":78.72},{"m":"QPiSSA","s":7000,"v":80.89},{"m":"LoRA","s":7000,"v":80.22},{"m":"Full FT","s":7000,"v":81.18},{"m":"PiSSA","s":7000,"v":82.72},
      {"m":"QLoRA","s":8000,"v":77.71},{"m":"LoftQ","s":8000,"v":79.93},{"m":"QPiSSA","s":8000,"v":81.04},{"m":"LoRA","s":8000,"v":79.25},{"m":"Full FT","s":8000,"v":81.9},{"m":"PiSSA","s":8000,"v":82.48},
      {"m":"QLoRA","s":9000,"v":78.53},{"m":"LoftQ","s":9000,"v":79.68},{"m":"QPiSSA","s":9000,"v":81.04},{"m":"LoRA","s":9000,"v":79.01},{"m":"Full FT","s":9000,"v":81.95},{"m":"PiSSA","s":9000,"v":82.34}
    ]
  },
  "layer": [
    {
      "data": {"name": "lossMain"},
      "mark": {"type": "line", "strokeWidth": 1.5, "strokeJoin": "round"},
      "encoding": {
        "x": {"field": "s", "type": "quantitative",
          "scale": {"domain": [-460, 9660], "range": [67, 613], "nice": false, "zero": false},
          "axis": {"orient": "bottom", "offset": -387, "values": [0,1000,2000,3000,4000,5000,6000,7000,8000,9000], "format": "d", "labelFontSize": 12.5,
            "title": "(a) Loss over training steps.", "titleFont": "Liberation Serif", "titleFontSize": 23.5, "titleX": 310, "titleY": 62, "titleBaseline": "alphabetic", "titleAlign": "center"}},
        "y": {"field": "v", "type": "quantitative",
          "scale": {"domain": [0.08, 0.40], "range": [234, 7], "nice": false, "zero": false},
          "axis": {"orient": "left", "offset": -67, "values": [0.1,0.15,0.2,0.25,0.3,0.35,0.4], "format": ".2f", "labelFontSize": 12.5,
            "title": "Training Loss", "titleFontSize": 16, "titleX": -44, "titleBaseline": "alphabetic"}},
        "color": {"field": "m", "type": "nominal",
          "scale": {"domain": ["QLoRA","LoftQ","QPiSSA","LoRA","Full FT","PiSSA"], "range": ["#ffcc80","#1f77b4","#f24a3d","#ff8c00","#32cd32","#b22222"]},
          "legend": null}
      }
    },
    {
      "data": {"name": "lossMain"},
      "mark": {"type": "point", "opacity": 0},
      "encoding": {
        "x": {"field": "s", "type": "quantitative",
          "scale": {"domain": [-460, 9660], "range": [67, 613], "nice": false, "zero": false},
          "axis": {"orient": "top", "offset": -7, "labels": false, "ticks": false, "title": null}},
        "y": {"field": "v", "type": "quantitative",
          "scale": {"domain": [0.08, 0.40], "range": [234, 7], "nice": false, "zero": false},
          "axis": {"orient": "right", "offset": -632, "labels": false, "ticks": false, "title": null}}
      }
    },
    {
      "data": {"name": "lossInset"},
      "mark": {"type": "line", "strokeWidth": 1.5, "strokeJoin": "round"},
      "encoding": {
        "x": {"field": "s", "type": "quantitative",
          "scale": {"domain": [-4.95, 103.95], "range": [197, 606], "nice": false, "zero": false},
          "axis": {"orient": "bottom", "offset": -493, "values": [0,20,40,60,80,100], "labelFontSize": 13,
            "title": "The First 100 Steps", "titleFontSize": 13, "titleY": 33.5, "titleBaseline": "alphabetic"}},
        "y": {"field": "v", "type": "quantitative",
          "scale": {"domain": [0.184, 0.787], "range": [128, 15], "nice": false, "zero": false},
          "axis": {"orient": "left", "offset": -197, "values": [0.2,0.4,0.6], "format": ".1f", "labelFontSize": 13,
            "title": "Loss", "titleFontSize": 13, "titleX": -34, "titleBaseline": "alphabetic"}},
        "color": {"field": "m", "type": "nominal",
          "scale": {"domain": ["QLoRA","LoftQ","QPiSSA","LoRA","Full FT","PiSSA"], "range": ["#ffcc80","#1f77b4","#f24a3d","#ff8c00","#32cd32","#b22222"]},
          "legend": null}
      }
    },
    {
      "data": {"name": "lossInset"},
      "mark": {"type": "point", "opacity": 0},
      "encoding": {
        "x": {"field": "s", "type": "quantitative",
          "scale": {"domain": [-4.95, 103.95], "range": [197, 606], "nice": false, "zero": false},
          "axis": {"orient": "top", "offset": -15, "labels": false, "ticks": false, "title": null}},
        "y": {"field": "v", "type": "quantitative",
          "scale": {"domain": [0.184, 0.787], "range": [128, 15], "nice": false, "zero": false},
          "axis": {"orient": "right", "offset": -639, "labels": false, "ticks": false, "title": null}}
      }
    },
    {
      "data": {"name": "gradMain"},
      "mark": {"type": "line", "strokeWidth": 1.5, "strokeJoin": "round"},
      "encoding": {
        "x": {"field": "s", "type": "quantitative",
          "scale": {"domain": [-460, 9660], "range": [688, 1243], "nice": false, "zero": false},
          "axis": {"orient": "bottom", "offset": -387, "values": [0,1000,2000,3000,4000,5000,6000,7000,8000,9000], "format": "d", "labelFontSize": 12.5,
            "title": "(b) Grad norm over training steps.", "titleFont": "Liberation Serif", "titleFontSize": 23.5, "titleX": 940, "titleY": 62, "titleBaseline": "alphabetic", "titleAlign": "center"}},
        "y": {"field": "v", "type": "quantitative",
          "scale": {"domain": [0.095, 3.5], "range": [234, 7], "nice": false, "zero": false},
          "axis": {"orient": "left", "offset": -688, "values": [0.5,1,1.5,2,2.5,3,3.5], "format": ".1f", "labelFontSize": 12.5,
            "title": "Training Grad Norm", "titleFontSize": 16, "titleX": -36, "titleBaseline": "alphabetic"}},
        "color": {"field": "m", "type": "nominal",
          "scale": {"domain": ["QLoRA","LoftQ","QPiSSA","LoRA","Full FT","PiSSA"], "range": ["#ffcc80","#1f77b4","#f24a3d","#ff8c00","#32cd32","#b22222"]},
          "legend": null}
      }
    },
    {
      "data": {"name": "gradMain"},
      "mark": {"type": "point", "opacity": 0},
      "encoding": {
        "x": {"field": "s", "type": "quantitative",
          "scale": {"domain": [-460, 9660], "range": [688, 1243], "nice": false, "zero": false},
          "axis": {"orient": "top", "offset": -7, "labels": false, "ticks": false, "title": null}},
        "y": {"field": "v", "type": "quantitative",
          "scale": {"domain": [0.095, 3.5], "range": [234, 7], "nice": false, "zero": false},
          "axis": {"orient": "right", "offset": -2, "labels": false, "ticks": false, "title": null}}
      }
    },
    {
      "data": {"name": "gradInset"},
      "mark": {"type": "line", "strokeWidth": 1.5, "strokeJoin": "round"},
      "encoding": {
        "x": {"field": "s", "type": "quantitative",
          "scale": {"domain": [-4.95, 103.95], "range": [821, 1236], "nice": false, "zero": false},
          "axis": {"orient": "bottom", "offset": -493, "values": [0,20,40,60,80,100], "labelFontSize": 13,
            "title": "The First 100 Steps", "titleFontSize": 13, "titleY": 33.5, "titleBaseline": "alphabetic"}},
        "y": {"field": "v", "type": "quantitative",
          "scale": {"domain": [-0.34, 12.45], "range": [128, 15], "nice": false, "zero": false},
          "axis": {"orient": "left", "offset": -821, "values": [0,5,10], "labelFontSize": 13,
            "title": "Grad Norm", "titleFontSize": 13, "titleX": -30, "titleBaseline": "alphabetic"}},
        "color": {"field": "m", "type": "nominal",
          "scale": {"domain": ["QLoRA","LoftQ","QPiSSA","LoRA","Full FT","PiSSA"], "range": ["#ffcc80","#1f77b4","#f24a3d","#ff8c00","#32cd32","#b22222"]},
          "legend": {"orient": "none", "legendX": 1022, "legendY": 22, "columns": 2, "title": null,
            "symbolType": "M-2,0H2", "symbolSize": 210, "symbolStrokeWidth": 1.5, "symbolOffset": 7.5,
            "labelFontSize": 13.5, "labelOffset": 16, "padding": 3, "rowPadding": 5.75, "columnPadding": 20,
            "fillColor": "rgba(255,255,255,0.8)", "strokeColor": "#cccccc", "cornerRadius": 3}}
      }
    },
    {
      "data": {"name": "gradInset"},
      "mark": {"type": "point", "opacity": 0},
      "encoding": {
        "x": {"field": "s", "type": "quantitative",
          "scale": {"domain": [-4.95, 103.95], "range": [821, 1236], "nice": false, "zero": false},
          "axis": {"orient": "top", "offset": -15, "labels": false, "ticks": false, "title": null}},
        "y": {"field": "v", "type": "quantitative",
          "scale": {"domain": [-0.34, 12.45], "range": [128, 15], "nice": false, "zero": false},
          "axis": {"orient": "right", "offset": -9, "labels": false, "ticks": false, "title": null}}
      }
    },
    {
      "data": {"name": "accuracy"},
      "mark": {"type": "bar"},
      "encoding": {
        "x": {"field": "s", "type": "ordinal",
          "scale": {"type": "band", "range": [60, 1241], "paddingInner": 0.14, "paddingOuter": 0.1075},
          "axis": {"orient": "bottom", "offset": -78, "labelAngle": 0, "labelFontSize": 15.7,
            "title": "(c) Accuracy on GSM8K over training steps.", "titleFont": "Liberation Serif", "titleFontSize": 23.5, "titleX": 625, "titleY": 67.5, "titleBaseline": "alphabetic", "titleAlign": "center"}},
        "xOffset": {"field": "m", "type": "nominal",
          "scale": {"domain": ["QLoRA","LoftQ","QPiSSA","LoRA","Full FT","PiSSA"], "paddingInner": 0, "paddingOuter": 0}},
        "y": {"field": "v", "type": "quantitative",
          "scale": {"domain": [72, 83], "range": [543, 315], "nice": false, "zero": false},
          "axis": {"orient": "left", "offset": -60, "values": [72,74,76,78,80,82], "labelFontSize": 15.7,
            "title": "GSM8K Accuracy (%)", "titleFontSize": 15, "titleX": -38, "titleBaseline": "alphabetic"}},
        "y2": {"datum": 72},
        "color": {"field": "m", "type": "nominal",
          "scale": {"domain": ["QLoRA","LoftQ","QPiSSA","LoRA","Full FT","PiSSA"], "range": ["#fed485","#1f77b4","#ee3b2e","#fdb813","#33cc33","#b22222"]},
          "legend": {"orient": "none", "legendX": 68, "legendY": 324, "columns": 2, "title": null,
            "symbolType": "M-2,-0.71H2V0.71H-2Z", "symbolSize": 272, "symbolStrokeWidth": 0, "symbolOpacity": 1, "symbolOffset": 10,
            "labelFontSize": 15.7, "labelOffset": 23.7, "padding": 5, "rowPadding": 8, "columnPadding": 33,
            "fillColor": "rgba(255,255,255,0.8)", "strokeColor": "#cccccc", "cornerRadius": 3}}
      }
    },
    {
      "data": {"name": "accuracy"},
      "mark": {"type": "point", "opacity": 0},
      "encoding": {
        "x": {"field": "s", "type": "ordinal",
          "scale": {"type": "band", "range": [60, 1241]},
          "axis": {"orient": "top", "offset": -315, "labels": false, "ticks": false, "title": null}},
        "y": {"field": "v", "type": "quantitative",
          "scale": {"domain": [72, 83], "range": [543, 315], "nice": false, "zero": false},
          "axis": {"orient": "right", "offset": -4, "labels": false, "ticks": false, "title": null}}
      }
    }
  ],
  "resolve": {
    "scale": {"x": "independent", "y": "independent", "color": "independent", "xOffset": "independent"},
    "axis": {"x": "independent", "y": "independent"},
    "legend": {"color": "independent"}
  }
}
